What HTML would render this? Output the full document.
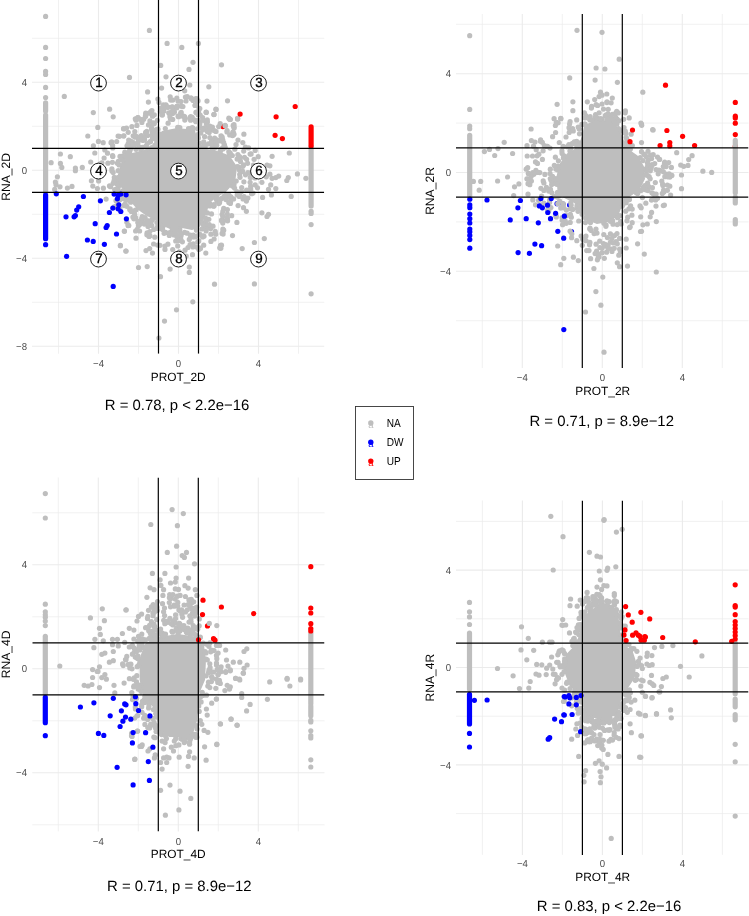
<!DOCTYPE html><html><head><meta charset="utf-8"><style>html,body{margin:0;padding:0;background:#fff;width:749px;height:916px;overflow:hidden}svg{display:block;will-change:transform}text{font-family:"Liberation Sans",sans-serif}</style></head><body><svg width="749" height="916" viewBox="0 0 749 916" text-rendering="geometricPrecision"><clipPath id="c0"><rect x="32" y="0" width="292.2" height="353.7"/></clipPath><path d="M32 38.3H324.2M32 126.3H324.2M32 214.3H324.2M32 302.3H324.2M58.5 0V353.7M138.5 0V353.7M218.5 0V353.7M298.5 0V353.7" stroke="#EBEBEB" stroke-width="0.7" fill="none"/><path d="M32 82.3H324.2M32 170.3H324.2M32 258.3H324.2M32 346.3H324.2M98.5 0V353.7M178.5 0V353.7M258.5 0V353.7" stroke="#EBEBEB" stroke-width="1.1" fill="none"/><g clip-path="url(#c0)"><g fill="#FF0000"><circle cx="222.9" cy="126.6" r="2.6"/></g><path d="M162 131 L177 128 L195 130 L198.8 148 L214.7 149.9 L229.6 155.5 L237.1 166.7 L235.2 181.7 L225.9 192 L214.7 198.5 L209 204 L207 212 L203 221 L199 228 L192 230 L182 228 L170 229 L161 225 L155 220 L146 215.5 L137 209 L130 201 L126.5 193.5 L121.2 187.3 L117.5 176.1 L121.2 163 L130.6 153.6 L143.6 149.9 L157.7 148 L158.6 135 Z" fill="#BEBEBE"/><g fill="#BEBEBE"><circle cx="172.9" cy="111.1" r="2.6"/><circle cx="138.4" cy="225.8" r="2.6"/><circle cx="185.4" cy="97" r="2.6"/><circle cx="230.4" cy="203.5" r="2.6"/><circle cx="149" cy="236.5" r="2.6"/><circle cx="253" cy="193" r="2.6"/><circle cx="173.6" cy="109.3" r="2.6"/><circle cx="250.7" cy="189.1" r="2.6"/><circle cx="119.8" cy="208.4" r="2.6"/><circle cx="103.4" cy="188.2" r="2.6"/><circle cx="99.7" cy="164" r="2.6"/><circle cx="153.1" cy="124.1" r="2.6"/><circle cx="178" cy="101.1" r="2.6"/><circle cx="215.2" cy="231.3" r="2.6"/><circle cx="168.1" cy="123.2" r="2.6"/><circle cx="232.5" cy="135.6" r="2.6"/><circle cx="187.3" cy="96.7" r="2.6"/><circle cx="199.1" cy="108.3" r="2.6"/><circle cx="160.6" cy="108" r="2.6"/><circle cx="238" cy="140.1" r="2.6"/><circle cx="243.1" cy="199" r="2.6"/><circle cx="197.1" cy="101.4" r="2.6"/><circle cx="181.2" cy="106.2" r="2.6"/><circle cx="163.6" cy="110.9" r="2.6"/><circle cx="138.5" cy="221.3" r="2.6"/><circle cx="245.4" cy="147.2" r="2.6"/><circle cx="205.2" cy="127.6" r="2.6"/><circle cx="137.8" cy="222.4" r="2.6"/><circle cx="213" cy="226.2" r="2.6"/><circle cx="149.9" cy="120.9" r="2.6"/><circle cx="253.8" cy="177" r="2.6"/><circle cx="227.2" cy="218.2" r="2.6"/><circle cx="106.1" cy="199.1" r="2.6"/><circle cx="116.7" cy="141.5" r="2.6"/><circle cx="101.9" cy="162.8" r="2.6"/><circle cx="159" cy="102.4" r="2.6"/><circle cx="172.7" cy="119.4" r="2.6"/><circle cx="198.6" cy="111.9" r="2.6"/><circle cx="116.3" cy="205.9" r="2.6"/><circle cx="238.1" cy="205.6" r="2.6"/><circle cx="145.7" cy="113.2" r="2.6"/><circle cx="163.7" cy="110.9" r="2.6"/><circle cx="222.1" cy="214.3" r="2.6"/><circle cx="101" cy="167.5" r="2.6"/><circle cx="107.5" cy="153.2" r="2.6"/><circle cx="199.6" cy="124.7" r="2.6"/><circle cx="190.6" cy="120.2" r="2.6"/><circle cx="135.6" cy="217.7" r="2.6"/><circle cx="107.9" cy="163.2" r="2.6"/><circle cx="199.8" cy="108.5" r="2.6"/><circle cx="172.7" cy="249.5" r="2.6"/><circle cx="184.8" cy="120.1" r="2.6"/><circle cx="133.9" cy="218.8" r="2.6"/><circle cx="160.5" cy="111.3" r="2.6"/><circle cx="193" cy="100.5" r="2.6"/><circle cx="222.8" cy="223.1" r="2.6"/><circle cx="198.4" cy="120.3" r="2.6"/><circle cx="192.3" cy="117.4" r="2.6"/><circle cx="132.9" cy="217.1" r="2.6"/><circle cx="181.4" cy="115.8" r="2.6"/><circle cx="131.9" cy="126.7" r="2.6"/><circle cx="249.1" cy="190.2" r="2.6"/><circle cx="104.1" cy="158" r="2.6"/><circle cx="199.9" cy="122.9" r="2.6"/><circle cx="210.7" cy="129.8" r="2.6"/><circle cx="202.6" cy="117.6" r="2.6"/><circle cx="254.1" cy="159.3" r="2.6"/><circle cx="151.3" cy="111.4" r="2.6"/><circle cx="146.9" cy="234.8" r="2.6"/><circle cx="255.5" cy="169.7" r="2.6"/><circle cx="167.8" cy="107.3" r="2.6"/><circle cx="191.4" cy="98.8" r="2.6"/><circle cx="255" cy="177.9" r="2.6"/><circle cx="223.3" cy="220.9" r="2.6"/><circle cx="170.2" cy="96.8" r="2.6"/><circle cx="251.3" cy="173" r="2.6"/><circle cx="147.1" cy="232.8" r="2.6"/><circle cx="210.6" cy="228.6" r="2.6"/><circle cx="154.3" cy="123.5" r="2.6"/><circle cx="149.8" cy="231.6" r="2.6"/><circle cx="229.7" cy="134.9" r="2.6"/><circle cx="207.4" cy="122.1" r="2.6"/><circle cx="170.5" cy="119.1" r="2.6"/><circle cx="227.3" cy="214.1" r="2.6"/><circle cx="143.7" cy="119.3" r="2.6"/><circle cx="176.8" cy="98.1" r="2.6"/><circle cx="207.8" cy="128.4" r="2.6"/><circle cx="246.6" cy="190.2" r="2.6"/><circle cx="153.6" cy="244" r="2.6"/><circle cx="251.1" cy="153.9" r="2.6"/><circle cx="250.5" cy="173" r="2.6"/><circle cx="222.8" cy="216.4" r="2.6"/><circle cx="165" cy="249.4" r="2.6"/><circle cx="203.3" cy="120.3" r="2.6"/><circle cx="250.1" cy="182.3" r="2.6"/><circle cx="186.3" cy="256" r="2.6"/><circle cx="126.9" cy="222.2" r="2.6"/><circle cx="203.7" cy="245.2" r="2.6"/><circle cx="250.7" cy="186.2" r="2.6"/><circle cx="227" cy="131.9" r="2.6"/><circle cx="98.6" cy="180.9" r="2.6"/><circle cx="227.4" cy="209.5" r="2.6"/><circle cx="199.4" cy="247.9" r="2.6"/><circle cx="102.3" cy="170.5" r="2.6"/><circle cx="100" cy="171.9" r="2.6"/><circle cx="181" cy="101.5" r="2.6"/><circle cx="198.8" cy="249.4" r="2.6"/><circle cx="109.5" cy="185.9" r="2.6"/><circle cx="186" cy="101" r="2.6"/><circle cx="163.4" cy="104.8" r="2.6"/><circle cx="154.3" cy="114.8" r="2.6"/><circle cx="153.1" cy="123.5" r="2.6"/><circle cx="98.2" cy="169.1" r="2.6"/><circle cx="176.8" cy="107.8" r="2.6"/><circle cx="172.8" cy="100.1" r="2.6"/><circle cx="244.1" cy="196.6" r="2.6"/><circle cx="157.4" cy="120.3" r="2.6"/><circle cx="185.3" cy="118.6" r="2.6"/><circle cx="239.2" cy="196.5" r="2.6"/><circle cx="250" cy="173.4" r="2.6"/><circle cx="141.9" cy="122.4" r="2.6"/><circle cx="134.8" cy="131.5" r="2.6"/><circle cx="157.9" cy="99" r="2.6"/><circle cx="182.9" cy="106.6" r="2.6"/><circle cx="253.4" cy="165" r="2.6"/><circle cx="160" cy="245.3" r="2.6"/><circle cx="218.7" cy="126.6" r="2.6"/><circle cx="152.5" cy="116.2" r="2.6"/><circle cx="195.9" cy="121.7" r="2.6"/><circle cx="179.3" cy="251.8" r="2.6"/><circle cx="207.3" cy="119.8" r="2.6"/><circle cx="201.5" cy="128.1" r="2.6"/><circle cx="114.1" cy="206.9" r="2.6"/><circle cx="174.3" cy="112.3" r="2.6"/><circle cx="174.2" cy="111.3" r="2.6"/><circle cx="151.9" cy="110.6" r="2.6"/><circle cx="250.3" cy="177.6" r="2.6"/><circle cx="154.8" cy="145.4" r="2.6"/><circle cx="120" cy="192.4" r="2.6"/><circle cx="118" cy="188.9" r="2.6"/><circle cx="164.9" cy="246.1" r="2.6"/><circle cx="222.9" cy="149" r="2.6"/><circle cx="214.7" cy="145.5" r="2.6"/><circle cx="113.1" cy="183.3" r="2.6"/><circle cx="216.2" cy="142.8" r="2.6"/><circle cx="164.1" cy="233.3" r="2.6"/><circle cx="130.9" cy="148.5" r="2.6"/><circle cx="197.7" cy="134.6" r="2.6"/><circle cx="138.9" cy="146.8" r="2.6"/><circle cx="224.6" cy="146.7" r="2.6"/><circle cx="241.5" cy="191.4" r="2.6"/><circle cx="242.1" cy="171.5" r="2.6"/><circle cx="133.5" cy="142.5" r="2.6"/><circle cx="124.7" cy="195.4" r="2.6"/><circle cx="148.3" cy="221.2" r="2.6"/><circle cx="236.2" cy="181.1" r="2.6"/><circle cx="120" cy="156.4" r="2.6"/><circle cx="202.6" cy="222.6" r="2.6"/><circle cx="143" cy="140.4" r="2.6"/><circle cx="152.2" cy="219.7" r="2.6"/><circle cx="158" cy="129.2" r="2.6"/><circle cx="175.7" cy="241" r="2.6"/><circle cx="178.5" cy="228.8" r="2.6"/><circle cx="145.3" cy="146.9" r="2.6"/><circle cx="243.6" cy="164.8" r="2.6"/><circle cx="179.8" cy="127.6" r="2.6"/><circle cx="179.8" cy="228.9" r="2.6"/><circle cx="225.6" cy="195.1" r="2.6"/><circle cx="177.7" cy="127.4" r="2.6"/><circle cx="145.1" cy="217.7" r="2.6"/><circle cx="188.5" cy="128.5" r="2.6"/><circle cx="243.9" cy="181.8" r="2.6"/><circle cx="153.7" cy="229.5" r="2.6"/><circle cx="239.4" cy="157.4" r="2.6"/><circle cx="122.6" cy="156.2" r="2.6"/><circle cx="156.8" cy="134.6" r="2.6"/><circle cx="229.3" cy="153.3" r="2.6"/><circle cx="233.9" cy="184.7" r="2.6"/><circle cx="244.5" cy="157.3" r="2.6"/><circle cx="209.8" cy="206" r="2.6"/><circle cx="193.1" cy="128.3" r="2.6"/><circle cx="237.9" cy="154.7" r="2.6"/><circle cx="241.7" cy="187.5" r="2.6"/><circle cx="238.8" cy="167.2" r="2.6"/><circle cx="155.9" cy="147.6" r="2.6"/><circle cx="197.7" cy="242.1" r="2.6"/><circle cx="216.9" cy="201.1" r="2.6"/><circle cx="246.6" cy="159.3" r="2.6"/><circle cx="150.6" cy="141.5" r="2.6"/><circle cx="129.6" cy="151.9" r="2.6"/><circle cx="198.4" cy="138.1" r="2.6"/><circle cx="243.7" cy="151.1" r="2.6"/><circle cx="126.3" cy="200.1" r="2.6"/><circle cx="198" cy="137" r="2.6"/><circle cx="117.5" cy="188.5" r="2.6"/><circle cx="148" cy="226.5" r="2.6"/><circle cx="179.5" cy="239.2" r="2.6"/><circle cx="154.1" cy="131.5" r="2.6"/><circle cx="204" cy="236.2" r="2.6"/><circle cx="130.7" cy="202.2" r="2.6"/><circle cx="180.9" cy="236.3" r="2.6"/><circle cx="239.5" cy="156.7" r="2.6"/><circle cx="129.7" cy="151.3" r="2.6"/><circle cx="222.5" cy="148.3" r="2.6"/><circle cx="174.9" cy="229.4" r="2.6"/><circle cx="236" cy="144.6" r="2.6"/><circle cx="157.7" cy="144.3" r="2.6"/><circle cx="138.5" cy="140.7" r="2.6"/><circle cx="179.7" cy="230.9" r="2.6"/><circle cx="114.3" cy="177.4" r="2.6"/><circle cx="220.2" cy="149.5" r="2.6"/><circle cx="158" cy="228.5" r="2.6"/><circle cx="240.5" cy="161.6" r="2.6"/><circle cx="125.2" cy="204.7" r="2.6"/><circle cx="218.8" cy="203.6" r="2.6"/><circle cx="234.6" cy="188.1" r="2.6"/><circle cx="232.3" cy="155.5" r="2.6"/><circle cx="214.1" cy="205.8" r="2.6"/><circle cx="217" cy="197.7" r="2.6"/><circle cx="173.9" cy="235" r="2.6"/><circle cx="131.4" cy="146" r="2.6"/><circle cx="124.8" cy="152.2" r="2.6"/><circle cx="129.6" cy="200.7" r="2.6"/><circle cx="196.9" cy="138.9" r="2.6"/><circle cx="177.7" cy="245.9" r="2.6"/><circle cx="159.2" cy="133.9" r="2.6"/><circle cx="165.3" cy="128.6" r="2.6"/><circle cx="197.6" cy="128.8" r="2.6"/><circle cx="144.6" cy="139.4" r="2.6"/><circle cx="142.3" cy="221.7" r="2.6"/><circle cx="118.1" cy="184" r="2.6"/><circle cx="184.6" cy="232.3" r="2.6"/><circle cx="167.9" cy="244.2" r="2.6"/><circle cx="151.5" cy="127.8" r="2.6"/><circle cx="215.5" cy="139.4" r="2.6"/><circle cx="198.8" cy="240.9" r="2.6"/><circle cx="124.1" cy="205.6" r="2.6"/><circle cx="207.3" cy="227.9" r="2.6"/><circle cx="169.3" cy="235.4" r="2.6"/><circle cx="229.9" cy="196.8" r="2.6"/><circle cx="158" cy="137.4" r="2.6"/><circle cx="220.3" cy="151.5" r="2.6"/><circle cx="247.9" cy="172.6" r="2.6"/><circle cx="146.2" cy="222.1" r="2.6"/><circle cx="135" cy="137.2" r="2.6"/><circle cx="187.1" cy="233.2" r="2.6"/><circle cx="129.8" cy="209.7" r="2.6"/><circle cx="157" cy="227.4" r="2.6"/><circle cx="156.3" cy="147.5" r="2.6"/><circle cx="222.2" cy="198.1" r="2.6"/><circle cx="192.3" cy="127.6" r="2.6"/><circle cx="140.9" cy="149.3" r="2.6"/><circle cx="209.2" cy="132.5" r="2.6"/><circle cx="128.9" cy="199.2" r="2.6"/><circle cx="239.7" cy="174.4" r="2.6"/><circle cx="130.5" cy="142.1" r="2.6"/><circle cx="191" cy="128.4" r="2.6"/><circle cx="150.9" cy="221.2" r="2.6"/><circle cx="211.7" cy="140.3" r="2.6"/><circle cx="215.9" cy="198.5" r="2.6"/><circle cx="237.3" cy="166.5" r="2.6"/><circle cx="222.8" cy="147.8" r="2.6"/><circle cx="136" cy="149.3" r="2.6"/><circle cx="157.2" cy="146" r="2.6"/><circle cx="122.8" cy="159.9" r="2.6"/><circle cx="125.1" cy="195.6" r="2.6"/><circle cx="119.1" cy="165" r="2.6"/><circle cx="211.5" cy="213.9" r="2.6"/><circle cx="207.2" cy="225.3" r="2.6"/><circle cx="118.2" cy="170.7" r="2.6"/><circle cx="239.4" cy="169.9" r="2.6"/><circle cx="215.2" cy="147.6" r="2.6"/><circle cx="118.3" cy="161.3" r="2.6"/><circle cx="133.2" cy="135.8" r="2.6"/><circle cx="161.1" cy="228.4" r="2.6"/><circle cx="205.1" cy="147" r="2.6"/><circle cx="115.5" cy="180.6" r="2.6"/><circle cx="136.1" cy="209.8" r="2.6"/><circle cx="123.1" cy="191.8" r="2.6"/><circle cx="170.8" cy="232.3" r="2.6"/><circle cx="208.8" cy="219.3" r="2.6"/><circle cx="204.1" cy="227.7" r="2.6"/><circle cx="116" cy="200.7" r="2.6"/><circle cx="225.9" cy="197.9" r="2.6"/><circle cx="220.7" cy="149.6" r="2.6"/><circle cx="111.9" cy="168.8" r="2.6"/><circle cx="230.7" cy="201.5" r="2.6"/><circle cx="233.6" cy="198.9" r="2.6"/><circle cx="156.2" cy="129.5" r="2.6"/><circle cx="130.2" cy="208.9" r="2.6"/><circle cx="152" cy="220.1" r="2.6"/><circle cx="151.8" cy="147.6" r="2.6"/><circle cx="169.2" cy="232.9" r="2.6"/><circle cx="177" cy="236.7" r="2.6"/><circle cx="157.2" cy="143.7" r="2.6"/><circle cx="213.6" cy="206.2" r="2.6"/><circle cx="117.9" cy="177.5" r="2.6"/><circle cx="188" cy="247.5" r="2.6"/><circle cx="155.5" cy="138.4" r="2.6"/><circle cx="182.4" cy="241.8" r="2.6"/><circle cx="214.6" cy="138" r="2.6"/><circle cx="154.8" cy="237.2" r="2.6"/><circle cx="165.6" cy="232.4" r="2.6"/><circle cx="177.2" cy="235.7" r="2.6"/><circle cx="247.6" cy="163.3" r="2.6"/><circle cx="134.8" cy="210.6" r="2.6"/><circle cx="147.8" cy="148.6" r="2.6"/><circle cx="127" cy="145.8" r="2.6"/><circle cx="134.7" cy="214.6" r="2.6"/><circle cx="228.8" cy="151.6" r="2.6"/><circle cx="219.6" cy="202.4" r="2.6"/><circle cx="116.1" cy="181" r="2.6"/><circle cx="173.9" cy="229.4" r="2.6"/><circle cx="216.5" cy="141.4" r="2.6"/><circle cx="228.8" cy="194.8" r="2.6"/><circle cx="160.6" cy="224.8" r="2.6"/><circle cx="237.2" cy="194.8" r="2.6"/><circle cx="119.9" cy="199.7" r="2.6"/><circle cx="138.6" cy="139.3" r="2.6"/><circle cx="204.9" cy="145.9" r="2.6"/><circle cx="245.5" cy="174.8" r="2.6"/><circle cx="178.7" cy="240.4" r="2.6"/><circle cx="200.8" cy="133.1" r="2.6"/><circle cx="212.7" cy="148.8" r="2.6"/><circle cx="114.7" cy="189.6" r="2.6"/><circle cx="199.5" cy="143.1" r="2.6"/><circle cx="201.7" cy="147" r="2.6"/><circle cx="127.6" cy="156.3" r="2.6"/><circle cx="179.4" cy="235.7" r="2.6"/><circle cx="141.7" cy="218.5" r="2.6"/><circle cx="192.9" cy="246.9" r="2.6"/><circle cx="240" cy="177.3" r="2.6"/><circle cx="203.9" cy="145.5" r="2.6"/><circle cx="129.4" cy="151.2" r="2.6"/><circle cx="213.9" cy="204.6" r="2.6"/><circle cx="196.5" cy="230.2" r="2.6"/><circle cx="220.9" cy="199" r="2.6"/><circle cx="110.6" cy="186.7" r="2.6"/><circle cx="122.2" cy="160.1" r="2.6"/><circle cx="242.5" cy="171.2" r="2.6"/><circle cx="181.4" cy="234" r="2.6"/><circle cx="212.1" cy="147.8" r="2.6"/><circle cx="117.4" cy="163.3" r="2.6"/><circle cx="172.3" cy="229.1" r="2.6"/><circle cx="236.9" cy="191.6" r="2.6"/><circle cx="224.3" cy="196.1" r="2.6"/><circle cx="240" cy="159.4" r="2.6"/><circle cx="205.7" cy="221.5" r="2.6"/><circle cx="202.6" cy="237" r="2.6"/><circle cx="156.8" cy="135" r="2.6"/><circle cx="179.4" cy="230.9" r="2.6"/><circle cx="199.7" cy="234.2" r="2.6"/><circle cx="207.4" cy="212.9" r="2.6"/><circle cx="118.2" cy="181.4" r="2.6"/><circle cx="119.9" cy="185.3" r="2.6"/><circle cx="209.9" cy="203.9" r="2.6"/><circle cx="152.3" cy="132.4" r="2.6"/><circle cx="223.7" cy="142.7" r="2.6"/><circle cx="163.1" cy="226" r="2.6"/><circle cx="232.4" cy="186.1" r="2.6"/><circle cx="124.4" cy="199.1" r="2.6"/><circle cx="117.4" cy="184.4" r="2.6"/><circle cx="237.1" cy="159.1" r="2.6"/><circle cx="126.9" cy="206.3" r="2.6"/><circle cx="151.9" cy="220" r="2.6"/><circle cx="237.4" cy="167.1" r="2.6"/><circle cx="205.5" cy="218" r="2.6"/><circle cx="152" cy="134.8" r="2.6"/><circle cx="112" cy="171.1" r="2.6"/><circle cx="147.8" cy="220.9" r="2.6"/><circle cx="157.3" cy="228.5" r="2.6"/><circle cx="135" cy="144.5" r="2.6"/><circle cx="144.3" cy="224.1" r="2.6"/><circle cx="175.2" cy="233.1" r="2.6"/><circle cx="201.8" cy="229" r="2.6"/><circle cx="114.1" cy="180.5" r="2.6"/><circle cx="239.5" cy="194.7" r="2.6"/><circle cx="234.8" cy="149.2" r="2.6"/><circle cx="192.7" cy="237" r="2.6"/><circle cx="242.9" cy="166.3" r="2.6"/><circle cx="113.2" cy="172.6" r="2.6"/><circle cx="208.4" cy="143.8" r="2.6"/><circle cx="190.4" cy="235.2" r="2.6"/><circle cx="142.4" cy="147.4" r="2.6"/><circle cx="112.4" cy="162.3" r="2.6"/><circle cx="126.1" cy="156.7" r="2.6"/><circle cx="203" cy="224.6" r="2.6"/><circle cx="142.2" cy="216.7" r="2.6"/><circle cx="127.6" cy="154.2" r="2.6"/><circle cx="146.8" cy="131.4" r="2.6"/><circle cx="231" cy="198.8" r="2.6"/><circle cx="147.7" cy="135.5" r="2.6"/><circle cx="134" cy="211.9" r="2.6"/><circle cx="145.8" cy="133.7" r="2.6"/><circle cx="131.3" cy="211.5" r="2.6"/><circle cx="123" cy="198.5" r="2.6"/><circle cx="124.9" cy="204.3" r="2.6"/><circle cx="195" cy="237" r="2.6"/><circle cx="146.1" cy="146.2" r="2.6"/><circle cx="117.7" cy="201.3" r="2.6"/><circle cx="116.8" cy="189.7" r="2.6"/><circle cx="217.2" cy="140" r="2.6"/><circle cx="128.7" cy="140" r="2.6"/><circle cx="225.2" cy="147.6" r="2.6"/><circle cx="156.7" cy="142" r="2.6"/><circle cx="211.5" cy="142.8" r="2.6"/><circle cx="229.4" cy="197.1" r="2.6"/><circle cx="162.6" cy="229.4" r="2.6"/><circle cx="156.9" cy="222.5" r="2.6"/><circle cx="230.3" cy="153.1" r="2.6"/><circle cx="141.4" cy="135.6" r="2.6"/><circle cx="233.7" cy="184.4" r="2.6"/><circle cx="230.9" cy="196.9" r="2.6"/><circle cx="122.8" cy="190.9" r="2.6"/></g><g fill="#BEBEBE"><circle cx="64.3" cy="96.4" r="2.6"/><circle cx="93.3" cy="112.6" r="2.6"/><circle cx="109.6" cy="109.2" r="2.6"/><circle cx="113.2" cy="116.8" r="2.6"/><circle cx="129.5" cy="77.4" r="2.6"/><circle cx="97.8" cy="127.4" r="2.6"/><circle cx="87.8" cy="136" r="2.6"/><circle cx="98.4" cy="141.4" r="2.6"/><circle cx="103.2" cy="142.7" r="2.6"/><circle cx="111" cy="142.7" r="2.6"/><circle cx="93.4" cy="145.8" r="2.6"/><circle cx="104.8" cy="150" r="2.6"/><circle cx="112.8" cy="148" r="2.6"/><circle cx="94.8" cy="153" r="2.6"/><circle cx="112.8" cy="156.5" r="2.6"/><circle cx="60.4" cy="154" r="2.6"/><circle cx="70.3" cy="156.7" r="2.6"/><circle cx="51.1" cy="162.7" r="2.6"/><circle cx="60.4" cy="163.4" r="2.6"/><circle cx="61.8" cy="167.4" r="2.6"/><circle cx="75.4" cy="168" r="2.6"/><circle cx="75.4" cy="170.7" r="2.6"/><circle cx="82.3" cy="167.4" r="2.6"/><circle cx="90.7" cy="162" r="2.6"/><circle cx="57.4" cy="176.8" r="2.6"/><circle cx="55.4" cy="182.1" r="2.6"/><circle cx="56" cy="184.8" r="2.6"/><circle cx="60" cy="186.8" r="2.6"/><circle cx="54.7" cy="189.4" r="2.6"/><circle cx="67.4" cy="188.1" r="2.6"/><circle cx="72" cy="186.4" r="2.6"/><circle cx="91.4" cy="180.8" r="2.6"/><circle cx="92.8" cy="186.1" r="2.6"/><circle cx="97.4" cy="188.5" r="2.6"/><circle cx="123.5" cy="128.7" r="2.6"/><circle cx="118.1" cy="136" r="2.6"/><circle cx="123.5" cy="136" r="2.6"/><circle cx="128.8" cy="144" r="2.6"/><circle cx="128.8" cy="225.5" r="2.6"/><circle cx="128.1" cy="225.6" r="2.6"/><circle cx="124.4" cy="231.3" r="2.6"/><circle cx="120.4" cy="245.8" r="2.6"/><circle cx="125.9" cy="251.1" r="2.6"/><circle cx="149.4" cy="30.4" r="2.6"/><circle cx="167.1" cy="43.4" r="2.6"/><circle cx="181.8" cy="47.4" r="2.6"/><circle cx="198.4" cy="43.4" r="2.6"/><circle cx="193" cy="62.3" r="2.6"/><circle cx="189" cy="69.4" r="2.6"/><circle cx="221.5" cy="64.8" r="2.6"/><circle cx="160.7" cy="65.4" r="2.6"/><circle cx="166" cy="76.8" r="2.6"/><circle cx="161.6" cy="88.1" r="2.6"/><circle cx="189.8" cy="85" r="2.6"/><circle cx="184.7" cy="90.8" r="2.6"/><circle cx="147.6" cy="91.9" r="2.6"/><circle cx="208.8" cy="86.8" r="2.6"/><circle cx="148.4" cy="102.1" r="2.6"/><circle cx="170.7" cy="100.1" r="2.6"/><circle cx="191" cy="98.1" r="2.6"/><circle cx="196.8" cy="98.8" r="2.6"/><circle cx="198.1" cy="100.8" r="2.6"/><circle cx="207" cy="101.1" r="2.6"/><circle cx="227.5" cy="100.8" r="2.6"/><circle cx="166" cy="104.8" r="2.6"/><circle cx="164.7" cy="107.5" r="2.6"/><circle cx="172.1" cy="106.8" r="2.6"/><circle cx="177.4" cy="106.1" r="2.6"/><circle cx="195.4" cy="105.2" r="2.6"/><circle cx="149.4" cy="112.8" r="2.6"/><circle cx="145.4" cy="116.2" r="2.6"/><circle cx="138" cy="117.5" r="2.6"/><circle cx="135.3" cy="118.8" r="2.6"/><circle cx="162.4" cy="114.8" r="2.6"/><circle cx="168.7" cy="112.8" r="2.6"/><circle cx="172.7" cy="113.5" r="2.6"/><circle cx="180.7" cy="113.5" r="2.6"/><circle cx="178.1" cy="116.2" r="2.6"/><circle cx="183.4" cy="116.2" r="2.6"/><circle cx="190.1" cy="117.5" r="2.6"/><circle cx="196.8" cy="112.2" r="2.6"/><circle cx="198.1" cy="114.8" r="2.6"/><circle cx="206.1" cy="112.2" r="2.6"/><circle cx="213.8" cy="114.6" r="2.6"/><circle cx="216.1" cy="109.5" r="2.6"/><circle cx="228.8" cy="118.2" r="2.6"/><circle cx="230" cy="119" r="2.6"/><circle cx="237.6" cy="118.7" r="2.6"/><circle cx="230.3" cy="119.5" r="2.6"/><circle cx="237.6" cy="119.1" r="2.6"/><circle cx="225.1" cy="125.4" r="2.6"/><circle cx="234" cy="124.7" r="2.6"/><circle cx="234" cy="126.9" r="2.6"/><circle cx="232.9" cy="132" r="2.6"/><circle cx="234" cy="134.2" r="2.6"/><circle cx="243.9" cy="134.2" r="2.6"/><circle cx="222.2" cy="137.2" r="2.6"/><circle cx="221.5" cy="139.4" r="2.6"/><circle cx="242.8" cy="142.6" r="2.6"/><circle cx="224.4" cy="145.2" r="2.6"/><circle cx="248.6" cy="147.9" r="2.6"/><circle cx="255.2" cy="150.4" r="2.6"/><circle cx="250.1" cy="154.1" r="2.6"/><circle cx="258.2" cy="156.7" r="2.6"/><circle cx="272.1" cy="156.3" r="2.6"/><circle cx="289.3" cy="153" r="2.6"/><circle cx="267" cy="165.1" r="2.6"/><circle cx="269.9" cy="165.8" r="2.6"/><circle cx="297.4" cy="173.9" r="2.6"/><circle cx="305.9" cy="178.3" r="2.6"/><circle cx="278.7" cy="176.1" r="2.6"/><circle cx="275.8" cy="177.6" r="2.6"/><circle cx="272.1" cy="178.3" r="2.6"/><circle cx="288.3" cy="177.6" r="2.6"/><circle cx="286.8" cy="180.5" r="2.6"/><circle cx="269.9" cy="174.2" r="2.6"/><circle cx="266.3" cy="176.8" r="2.6"/><circle cx="261.9" cy="182.3" r="2.6"/><circle cx="270.7" cy="184.9" r="2.6"/><circle cx="275.8" cy="188.6" r="2.6"/><circle cx="268.5" cy="189.3" r="2.6"/><circle cx="257.5" cy="187.8" r="2.6"/><circle cx="255.2" cy="184.9" r="2.6"/><circle cx="291.2" cy="196.4" r="2.6"/><circle cx="262.6" cy="197.4" r="2.6"/><circle cx="271.4" cy="194.9" r="2.6"/><circle cx="247.9" cy="198.1" r="2.6"/><circle cx="246.4" cy="201.1" r="2.6"/><circle cx="251.6" cy="193.7" r="2.6"/><circle cx="243.5" cy="207.7" r="2.6"/><circle cx="246.4" cy="211.3" r="2.6"/><circle cx="261.9" cy="212.8" r="2.6"/><circle cx="268.5" cy="214.3" r="2.6"/><circle cx="267" cy="216.5" r="2.6"/><circle cx="236.9" cy="222.4" r="2.6"/><circle cx="227.3" cy="218" r="2.6"/><circle cx="231.7" cy="215.7" r="2.6"/><circle cx="222.9" cy="211.3" r="2.6"/><circle cx="223.7" cy="208.4" r="2.6"/><circle cx="228.8" cy="202.5" r="2.6"/><circle cx="225.9" cy="199.6" r="2.6"/><circle cx="221.5" cy="220.1" r="2.6"/><circle cx="222.9" cy="229" r="2.6"/><circle cx="221.5" cy="220.8" r="2.6"/><circle cx="227.6" cy="220.8" r="2.6"/><circle cx="223.1" cy="230.7" r="2.6"/><circle cx="223.1" cy="234.1" r="2.6"/><circle cx="232.5" cy="235.6" r="2.6"/><circle cx="221.5" cy="245.2" r="2.6"/><circle cx="220.8" cy="248.3" r="2.6"/><circle cx="242.2" cy="248.6" r="2.6"/><circle cx="254.4" cy="242.5" r="2.6"/><circle cx="264.3" cy="238.6" r="2.6"/><circle cx="254.4" cy="283.9" r="2.6"/><circle cx="134.8" cy="218.2" r="2.6"/><circle cx="128.4" cy="225.4" r="2.6"/><circle cx="124.4" cy="231" r="2.6"/><circle cx="139.6" cy="224.6" r="2.6"/><circle cx="137.2" cy="229.4" r="2.6"/><circle cx="135.6" cy="231" r="2.6"/><circle cx="139.6" cy="231" r="2.6"/><circle cx="136" cy="238.2" r="2.6"/><circle cx="120.4" cy="245.4" r="2.6"/><circle cx="126" cy="251" r="2.6"/><circle cx="148.4" cy="224.6" r="2.6"/><circle cx="151.7" cy="225.4" r="2.6"/><circle cx="147.6" cy="234.2" r="2.6"/><circle cx="150" cy="235.8" r="2.6"/><circle cx="146" cy="250.6" r="2.6"/><circle cx="149.7" cy="248.6" r="2.6"/><circle cx="152.5" cy="253.1" r="2.6"/><circle cx="138.5" cy="267.5" r="2.6"/><circle cx="147.2" cy="266.6" r="2.6"/><circle cx="157.6" cy="245.1" r="2.6"/><circle cx="170.1" cy="269.1" r="2.6"/><circle cx="160.5" cy="276.7" r="2.6"/><circle cx="180.8" cy="239.4" r="2.6"/><circle cx="189.3" cy="239.4" r="2.6"/><circle cx="190.1" cy="244.6" r="2.6"/><circle cx="185" cy="250.2" r="2.6"/><circle cx="192.5" cy="254.7" r="2.6"/><circle cx="189.3" cy="267.1" r="2.6"/><circle cx="189.3" cy="272.4" r="2.6"/><circle cx="200.5" cy="248.6" r="2.6"/><circle cx="205.8" cy="253.1" r="2.6"/><circle cx="193.3" cy="235" r="2.6"/><circle cx="197.3" cy="235.8" r="2.6"/><circle cx="193.3" cy="243.8" r="2.6"/><circle cx="196.5" cy="247" r="2.6"/><circle cx="202.9" cy="235.8" r="2.6"/><circle cx="206.1" cy="231" r="2.6"/><circle cx="209.3" cy="224.6" r="2.6"/><circle cx="210.9" cy="234.2" r="2.6"/><circle cx="215.7" cy="234.2" r="2.6"/><circle cx="222.1" cy="233.4" r="2.6"/><circle cx="223.7" cy="230.2" r="2.6"/><circle cx="210.9" cy="241.4" r="2.6"/><circle cx="214.1" cy="239" r="2.6"/><circle cx="220.5" cy="245.4" r="2.6"/><circle cx="219.7" cy="247.8" r="2.6"/><circle cx="214.5" cy="284.2" r="2.6"/><circle cx="192.8" cy="301.8" r="2.6"/><circle cx="176.5" cy="309.8" r="2.6"/><circle cx="164.5" cy="321.1" r="2.6"/><circle cx="158.9" cy="338" r="2.6"/><circle cx="149.6" cy="113.2" r="2.6"/><circle cx="145.6" cy="116.2" r="2.6"/><circle cx="137.8" cy="117.6" r="2.6"/><circle cx="136" cy="120.2" r="2.6"/><circle cx="140.4" cy="119.3" r="2.6"/><circle cx="136.9" cy="125.4" r="2.6"/><circle cx="148.5" cy="124.9" r="2.6"/><circle cx="153.4" cy="122.8" r="2.6"/><circle cx="126.5" cy="128" r="2.6"/><circle cx="123.9" cy="128.8" r="2.6"/><circle cx="128.2" cy="132.3" r="2.6"/><circle cx="119.5" cy="136.3" r="2.6"/><circle cx="123.9" cy="135.8" r="2.6"/><circle cx="135.7" cy="135.8" r="2.6"/><circle cx="130.8" cy="141" r="2.6"/><circle cx="145.6" cy="132.3" r="2.6"/><circle cx="143.8" cy="137.5" r="2.6"/><circle cx="140.4" cy="136.7" r="2.6"/><circle cx="151.7" cy="129.7" r="2.6"/><circle cx="153.4" cy="133.2" r="2.6"/><circle cx="152.5" cy="138.4" r="2.6"/><circle cx="128.2" cy="143.6" r="2.6"/><circle cx="132.6" cy="145.3" r="2.6"/><circle cx="137.8" cy="143.6" r="2.6"/><circle cx="147.3" cy="143.6" r="2.6"/><circle cx="149.9" cy="141.9" r="2.6"/><circle cx="111.7" cy="141.9" r="2.6"/><circle cx="112.6" cy="145.3" r="2.6"/><circle cx="112.6" cy="155.7" r="2.6"/><circle cx="165.5" cy="105.4" r="2.6"/><circle cx="168.1" cy="107.1" r="2.6"/><circle cx="163.8" cy="108" r="2.6"/><circle cx="172.5" cy="107.1" r="2.6"/><circle cx="176.8" cy="106.3" r="2.6"/><circle cx="191.2" cy="98.1" r="2.6"/><circle cx="195.9" cy="98.5" r="2.6"/><circle cx="195" cy="105.4" r="2.6"/><circle cx="162.1" cy="115" r="2.6"/><circle cx="169.9" cy="114.1" r="2.6"/><circle cx="171.6" cy="111.5" r="2.6"/><circle cx="169.9" cy="116.7" r="2.6"/><circle cx="181.2" cy="112.4" r="2.6"/><circle cx="178.6" cy="116.7" r="2.6"/><circle cx="184.6" cy="116.7" r="2.6"/><circle cx="190.7" cy="116.7" r="2.6"/><circle cx="195.9" cy="112.4" r="2.6"/><circle cx="195" cy="120.2" r="2.6"/><circle cx="215.9" cy="109.2" r="2.6"/><circle cx="206.3" cy="112.4" r="2.6"/><circle cx="214.1" cy="114.4" r="2.6"/><circle cx="200.2" cy="115" r="2.6"/><circle cx="229.7" cy="119.3" r="2.6"/><circle cx="237.6" cy="118.4" r="2.6"/><circle cx="206.3" cy="123.6" r="2.6"/><circle cx="212.4" cy="127.1" r="2.6"/><circle cx="209.8" cy="126.2" r="2.6"/><circle cx="220.2" cy="123.6" r="2.6"/><circle cx="225.4" cy="125.9" r="2.6"/><circle cx="233.2" cy="125.4" r="2.6"/><circle cx="234.1" cy="128" r="2.6"/><circle cx="202.8" cy="129.7" r="2.6"/><circle cx="207.2" cy="131.4" r="2.6"/><circle cx="214.1" cy="130.6" r="2.6"/><circle cx="215.9" cy="131.4" r="2.6"/><circle cx="227.1" cy="130.6" r="2.6"/><circle cx="233.2" cy="132.3" r="2.6"/><circle cx="233.2" cy="134.9" r="2.6"/><circle cx="204.6" cy="136.7" r="2.6"/><circle cx="209.8" cy="137.5" r="2.6"/><circle cx="221.1" cy="135.8" r="2.6"/><circle cx="222.8" cy="140.1" r="2.6"/><circle cx="220.2" cy="141" r="2.6"/><circle cx="203.7" cy="141.9" r="2.6"/><circle cx="210.7" cy="143.6" r="2.6"/><circle cx="216.7" cy="145.3" r="2.6"/><circle cx="224.5" cy="145.3" r="2.6"/><circle cx="45.6" cy="16.4" r="2.6"/><circle cx="45.6" cy="47.4" r="2.6"/><circle cx="45.6" cy="58.5" r="2.6"/><circle cx="45.6" cy="71.4" r="2.6"/><circle cx="45.6" cy="74.5" r="2.6"/><circle cx="45.6" cy="87.4" r="2.6"/><circle cx="45.6" cy="97.5" r="2.6"/><circle cx="311.1" cy="211.3" r="2.6"/><circle cx="311.1" cy="213.5" r="2.6"/><circle cx="311.1" cy="224.6" r="2.6"/><circle cx="311.1" cy="293.8" r="2.6"/></g><path d="M45.6 102.8V111" stroke="#BEBEBE" stroke-width="5.2" stroke-linecap="round"/><path d="M45.6 115V192.8" stroke="#BEBEBE" stroke-width="5.2" stroke-linecap="round"/><path d="M311.1 146.7V206" stroke="#BEBEBE" stroke-width="5.2" stroke-linecap="round"/><g fill="#0000FF"><circle cx="56.3" cy="193.8" r="2.6"/><circle cx="83.4" cy="196.5" r="2.6"/><circle cx="100.4" cy="200.8" r="2.6"/><circle cx="78.7" cy="206.8" r="2.6"/><circle cx="76.7" cy="210.1" r="2.6"/><circle cx="75.4" cy="215.5" r="2.6"/><circle cx="74.1" cy="216.8" r="2.6"/><circle cx="66" cy="216.8" r="2.6"/><circle cx="95.2" cy="223.7" r="2.6"/><circle cx="107.2" cy="225.5" r="2.6"/><circle cx="106.1" cy="227.5" r="2.6"/><circle cx="114.1" cy="194.1" r="2.6"/><circle cx="118.1" cy="195.4" r="2.6"/><circle cx="120.8" cy="194.1" r="2.6"/><circle cx="117.4" cy="198.8" r="2.6"/><circle cx="126.1" cy="194.8" r="2.6"/><circle cx="118.8" cy="204.8" r="2.6"/><circle cx="118.1" cy="208.8" r="2.6"/><circle cx="120.8" cy="211.5" r="2.6"/><circle cx="112.8" cy="208.1" r="2.6"/><circle cx="109.4" cy="212.5" r="2.6"/><circle cx="126.4" cy="218.8" r="2.6"/><circle cx="116.5" cy="234" r="2.6"/><circle cx="87.4" cy="240" r="2.6"/><circle cx="93.2" cy="241.4" r="2.6"/><circle cx="104.4" cy="244.3" r="2.6"/><circle cx="66.6" cy="256.3" r="2.6"/><circle cx="113.2" cy="286.4" r="2.6"/><circle cx="45.6" cy="244.7" r="2.6"/></g><path d="M45.6 195V238.7" stroke="#0000FF" stroke-width="5.2" stroke-linecap="round"/><g fill="#FF0000"><circle cx="240.1" cy="114.1" r="2.6"/><circle cx="276.1" cy="116.8" r="2.6"/><circle cx="295.2" cy="106.5" r="2.6"/><circle cx="275.1" cy="135.3" r="2.6"/><circle cx="282.4" cy="138.6" r="2.6"/></g><path d="M311.1 126.9V146" stroke="#FF0000" stroke-width="5.2" stroke-linecap="round"/><path d="M32 148.3H324.2M32 192.3H324.2M158.5 0V353.7M198.5 0V353.7" stroke="#000" stroke-width="1.2" fill="none"/></g><text transform="translate(27 85.9) scale(1 1.05)" font-size="9.6" fill="#4D4D4D" text-anchor="end">4</text><text transform="translate(27 173.9) scale(1 1.05)" font-size="9.6" fill="#4D4D4D" text-anchor="end">0</text><text transform="translate(27 261.9) scale(1 1.05)" font-size="9.6" fill="#4D4D4D" text-anchor="end">−4</text><text transform="translate(27 349.9) scale(1 1.05)" font-size="9.6" fill="#4D4D4D" text-anchor="end">−8</text><text transform="translate(98.5 366.8) scale(1 1.05)" font-size="9.6" fill="#4D4D4D" text-anchor="middle">−4</text><text transform="translate(178.5 366.8) scale(1 1.05)" font-size="9.6" fill="#4D4D4D" text-anchor="middle">0</text><text transform="translate(258.5 366.8) scale(1 1.05)" font-size="9.6" fill="#4D4D4D" text-anchor="middle">4</text><text transform="translate(10.4 176.8) rotate(-90)" font-size="12.1" fill="#000" text-anchor="middle">RNA_2D</text><text transform="translate(178.2 380.8)" font-size="11.9" fill="#000" text-anchor="middle">PROT_2D</text><text x="177" y="409.6" font-size="14.9" fill="#000" text-anchor="middle">R = 0.78, p &lt; 2.2e−16</text><clipPath id="c1"><rect x="456" y="14" width="292.5" height="354"/></clipPath><path d="M456 24.3H748.5M456 123.1H748.5M456 221.9H748.5M456 320.7H748.5M482.3 14V368M562.3 14V368M642.3 14V368M722.3 14V368" stroke="#EBEBEB" stroke-width="0.7" fill="none"/><path d="M456 73.7H748.5M456 172.5H748.5M456 271.3H748.5M522.3 14V368M602.3 14V368M682.3 14V368" stroke="#EBEBEB" stroke-width="1.1" fill="none"/><g clip-path="url(#c1)"><g fill="#0000FF"><circle cx="557.1" cy="203.7" r="2.6"/><circle cx="563" cy="204" r="2.6"/><circle cx="569.6" cy="205" r="2.6"/><circle cx="571.5" cy="231.5" r="2.6"/></g><g fill="#FF0000"><circle cx="735.3" cy="146.2" r="2.6"/></g><path d="M584.1 125.6 L596.9 119.2 L614 121.4 L621.5 134.2 L626.8 148.1 L637.5 155.5 L643.9 166.2 L645 179 L639.6 189.7 L629 197.2 L622.5 204.7 L618.3 215.4 L609.7 221.8 L596.9 223.9 L586.2 219.6 L582 209 L573.4 202.5 L562.7 197.2 L557.4 189.7 L556.3 176.9 L559.5 164.1 L567 153.4 L577.7 147 L582 136.3 Z" fill="#BEBEBE"/><g fill="#BEBEBE"><circle cx="640" cy="205.9" r="2.6"/><circle cx="537.1" cy="155.8" r="2.6"/><circle cx="591.6" cy="106.4" r="2.6"/><circle cx="669.9" cy="177.1" r="2.6"/><circle cx="585.2" cy="240.4" r="2.6"/><circle cx="548.8" cy="210.5" r="2.6"/><circle cx="536.2" cy="149.7" r="2.6"/><circle cx="566.2" cy="223.3" r="2.6"/><circle cx="616.1" cy="241.6" r="2.6"/><circle cx="543.8" cy="203.1" r="2.6"/><circle cx="533.5" cy="146.2" r="2.6"/><circle cx="655.6" cy="200" r="2.6"/><circle cx="666.1" cy="174" r="2.6"/><circle cx="582.3" cy="245.3" r="2.6"/><circle cx="542.3" cy="142.3" r="2.6"/><circle cx="662.3" cy="193.4" r="2.6"/><circle cx="631.1" cy="134.2" r="2.6"/><circle cx="558.1" cy="122.8" r="2.6"/><circle cx="663.8" cy="192.1" r="2.6"/><circle cx="604.8" cy="246" r="2.6"/><circle cx="627" cy="220.8" r="2.6"/><circle cx="664.8" cy="176.7" r="2.6"/><circle cx="565.3" cy="221" r="2.6"/><circle cx="628.9" cy="208.8" r="2.6"/><circle cx="535.5" cy="204.8" r="2.6"/><circle cx="627.7" cy="217.2" r="2.6"/><circle cx="589.9" cy="242.4" r="2.6"/><circle cx="630.2" cy="226.8" r="2.6"/><circle cx="562.2" cy="220.2" r="2.6"/><circle cx="598" cy="254.1" r="2.6"/><circle cx="576.7" cy="119.9" r="2.6"/><circle cx="599.1" cy="256.8" r="2.6"/><circle cx="596.6" cy="251.2" r="2.6"/><circle cx="651.5" cy="200.1" r="2.6"/><circle cx="539.8" cy="172.6" r="2.6"/><circle cx="535.9" cy="170.4" r="2.6"/><circle cx="596.1" cy="104.7" r="2.6"/><circle cx="596.1" cy="244.2" r="2.6"/><circle cx="630.6" cy="205.8" r="2.6"/><circle cx="619.6" cy="249" r="2.6"/><circle cx="659.4" cy="159.5" r="2.6"/><circle cx="569.6" cy="124" r="2.6"/><circle cx="527.2" cy="156" r="2.6"/><circle cx="671.9" cy="175.4" r="2.6"/><circle cx="555.9" cy="215.7" r="2.6"/><circle cx="614.5" cy="235.5" r="2.6"/><circle cx="629.6" cy="227.6" r="2.6"/><circle cx="569" cy="127.7" r="2.6"/><circle cx="651.5" cy="164.9" r="2.6"/><circle cx="573.3" cy="130.9" r="2.6"/><circle cx="550.9" cy="207.6" r="2.6"/><circle cx="537.5" cy="163.4" r="2.6"/><circle cx="556" cy="215.7" r="2.6"/><circle cx="528.3" cy="173.3" r="2.6"/><circle cx="566.8" cy="215.6" r="2.6"/><circle cx="529.8" cy="184.7" r="2.6"/><circle cx="547.6" cy="210.2" r="2.6"/><circle cx="654.7" cy="163.5" r="2.6"/><circle cx="564.9" cy="215.8" r="2.6"/><circle cx="663.6" cy="190.1" r="2.6"/><circle cx="559.3" cy="142.5" r="2.6"/><circle cx="532.7" cy="172.7" r="2.6"/><circle cx="546.5" cy="146.4" r="2.6"/><circle cx="569.2" cy="132.5" r="2.6"/><circle cx="544.3" cy="145.6" r="2.6"/><circle cx="537.6" cy="172.4" r="2.6"/><circle cx="582.7" cy="239.2" r="2.6"/><circle cx="641.2" cy="207.8" r="2.6"/><circle cx="570.2" cy="222.4" r="2.6"/><circle cx="528" cy="183.7" r="2.6"/><circle cx="526.9" cy="178.8" r="2.6"/><circle cx="538.6" cy="200.3" r="2.6"/><circle cx="533.8" cy="174.3" r="2.6"/><circle cx="617" cy="233.6" r="2.6"/><circle cx="550" cy="148.1" r="2.6"/><circle cx="632.2" cy="209.1" r="2.6"/><circle cx="606.9" cy="102.6" r="2.6"/><circle cx="566" cy="137" r="2.6"/><circle cx="671.4" cy="167.4" r="2.6"/><circle cx="570.1" cy="231.2" r="2.6"/><circle cx="667.3" cy="185.1" r="2.6"/><circle cx="603.5" cy="243.6" r="2.6"/><circle cx="552.6" cy="136.7" r="2.6"/><circle cx="599.7" cy="241.2" r="2.6"/><circle cx="549.6" cy="202.4" r="2.6"/><circle cx="664.5" cy="163.2" r="2.6"/><circle cx="631.9" cy="215.2" r="2.6"/><circle cx="656.1" cy="194.1" r="2.6"/><circle cx="599.9" cy="247.5" r="2.6"/><circle cx="653.2" cy="154.5" r="2.6"/><circle cx="611.5" cy="249" r="2.6"/><circle cx="651.9" cy="192.8" r="2.6"/><circle cx="555.4" cy="125.5" r="2.6"/><circle cx="662.9" cy="185.4" r="2.6"/><circle cx="621.2" cy="223.9" r="2.6"/><circle cx="527.7" cy="179.1" r="2.6"/><circle cx="538.9" cy="154.2" r="2.6"/><circle cx="625.4" cy="110.9" r="2.6"/><circle cx="571.6" cy="237.7" r="2.6"/><circle cx="642.4" cy="197.5" r="2.6"/><circle cx="562.1" cy="217.6" r="2.6"/><circle cx="528.6" cy="173.7" r="2.6"/><circle cx="623.7" cy="119.3" r="2.6"/><circle cx="607" cy="101.8" r="2.6"/><circle cx="612" cy="251.4" r="2.6"/><circle cx="663.6" cy="191.8" r="2.6"/><circle cx="541.2" cy="205.2" r="2.6"/><circle cx="572.9" cy="110.7" r="2.6"/><circle cx="540.6" cy="139.9" r="2.6"/><circle cx="660.3" cy="170.6" r="2.6"/><circle cx="625.2" cy="112.8" r="2.6"/><circle cx="608.1" cy="245.7" r="2.6"/><circle cx="668.7" cy="162.6" r="2.6"/><circle cx="625.7" cy="211.2" r="2.6"/><circle cx="652.4" cy="164.8" r="2.6"/><circle cx="653.1" cy="193.5" r="2.6"/><circle cx="571.8" cy="233.8" r="2.6"/><circle cx="540.4" cy="141.2" r="2.6"/><circle cx="570" cy="130.7" r="2.6"/><circle cx="632.2" cy="222.7" r="2.6"/><circle cx="532.8" cy="199.9" r="2.6"/><circle cx="562.6" cy="224.7" r="2.6"/><circle cx="650.6" cy="155.2" r="2.6"/><circle cx="646.4" cy="170.7" r="2.6"/><circle cx="613" cy="224.2" r="2.6"/><circle cx="643" cy="160.6" r="2.6"/><circle cx="616.9" cy="123.9" r="2.6"/><circle cx="595.6" cy="114.6" r="2.6"/><circle cx="650.2" cy="178.8" r="2.6"/><circle cx="574.3" cy="141.8" r="2.6"/><circle cx="628.9" cy="145.7" r="2.6"/><circle cx="609.3" cy="118.3" r="2.6"/><circle cx="546.4" cy="187.4" r="2.6"/><circle cx="562.1" cy="153.5" r="2.6"/><circle cx="572.2" cy="143.6" r="2.6"/><circle cx="577" cy="205.5" r="2.6"/><circle cx="576.9" cy="208" r="2.6"/><circle cx="617.1" cy="119" r="2.6"/><circle cx="582.1" cy="214.2" r="2.6"/><circle cx="557.2" cy="197.1" r="2.6"/><circle cx="649.2" cy="176.7" r="2.6"/><circle cx="578" cy="211.3" r="2.6"/><circle cx="595.6" cy="118.8" r="2.6"/><circle cx="576.8" cy="147.1" r="2.6"/><circle cx="578.9" cy="142.9" r="2.6"/><circle cx="645.7" cy="169" r="2.6"/><circle cx="559.6" cy="201.1" r="2.6"/><circle cx="544.9" cy="174.4" r="2.6"/><circle cx="618.2" cy="112.9" r="2.6"/><circle cx="608.1" cy="115" r="2.6"/><circle cx="579.5" cy="133.8" r="2.6"/><circle cx="624.1" cy="132.7" r="2.6"/><circle cx="603.8" cy="234.5" r="2.6"/><circle cx="549.6" cy="199.8" r="2.6"/><circle cx="553.4" cy="178.1" r="2.6"/><circle cx="612.7" cy="120.4" r="2.6"/><circle cx="594.1" cy="233.6" r="2.6"/><circle cx="646" cy="189.6" r="2.6"/><circle cx="577.2" cy="144" r="2.6"/><circle cx="640.4" cy="190.7" r="2.6"/><circle cx="625.8" cy="133.3" r="2.6"/><circle cx="622.1" cy="206.2" r="2.6"/><circle cx="626" cy="137.3" r="2.6"/><circle cx="551.1" cy="180.5" r="2.6"/><circle cx="553.8" cy="183.2" r="2.6"/><circle cx="641.7" cy="190" r="2.6"/><circle cx="615.6" cy="117.4" r="2.6"/><circle cx="558.5" cy="194.3" r="2.6"/><circle cx="590" cy="228.2" r="2.6"/><circle cx="553" cy="183.4" r="2.6"/><circle cx="643.8" cy="154" r="2.6"/><circle cx="629.6" cy="145.2" r="2.6"/><circle cx="628.6" cy="143.8" r="2.6"/><circle cx="612.6" cy="220.5" r="2.6"/><circle cx="626.2" cy="202.7" r="2.6"/><circle cx="569.3" cy="146.2" r="2.6"/><circle cx="552.6" cy="177.7" r="2.6"/><circle cx="563.1" cy="204.8" r="2.6"/><circle cx="576.7" cy="141.4" r="2.6"/><circle cx="564" cy="155.8" r="2.6"/><circle cx="563.1" cy="203.5" r="2.6"/><circle cx="551.9" cy="192.8" r="2.6"/><circle cx="590.5" cy="222.4" r="2.6"/><circle cx="571.3" cy="217.2" r="2.6"/><circle cx="607.9" cy="113.8" r="2.6"/><circle cx="543.2" cy="180.9" r="2.6"/><circle cx="570.4" cy="214.3" r="2.6"/><circle cx="615.1" cy="118.3" r="2.6"/><circle cx="570.4" cy="208.8" r="2.6"/><circle cx="550" cy="173.6" r="2.6"/><circle cx="555.4" cy="181.4" r="2.6"/><circle cx="557.4" cy="169.8" r="2.6"/><circle cx="575.5" cy="143.1" r="2.6"/><circle cx="557.5" cy="192.4" r="2.6"/><circle cx="626.7" cy="138.6" r="2.6"/><circle cx="558" cy="194.2" r="2.6"/><circle cx="606" cy="224.8" r="2.6"/><circle cx="605.9" cy="226.3" r="2.6"/><circle cx="647.6" cy="183" r="2.6"/><circle cx="629.4" cy="199.4" r="2.6"/><circle cx="646.3" cy="188.4" r="2.6"/><circle cx="585.4" cy="222.6" r="2.6"/><circle cx="574.9" cy="142.9" r="2.6"/><circle cx="618.8" cy="120.7" r="2.6"/><circle cx="554.3" cy="165.4" r="2.6"/><circle cx="627" cy="141.7" r="2.6"/><circle cx="550.3" cy="178.6" r="2.6"/><circle cx="620.6" cy="221.6" r="2.6"/><circle cx="556.2" cy="178.9" r="2.6"/><circle cx="548.7" cy="191.1" r="2.6"/><circle cx="564.1" cy="157" r="2.6"/><circle cx="578.7" cy="221" r="2.6"/><circle cx="630.2" cy="149.3" r="2.6"/><circle cx="572.7" cy="209.4" r="2.6"/><circle cx="578.2" cy="127.1" r="2.6"/><circle cx="650.4" cy="168.7" r="2.6"/><circle cx="589.7" cy="118.9" r="2.6"/><circle cx="640.2" cy="157.6" r="2.6"/><circle cx="627.8" cy="145.5" r="2.6"/><circle cx="632.3" cy="145.5" r="2.6"/><circle cx="645.2" cy="174.8" r="2.6"/><circle cx="623" cy="204.5" r="2.6"/><circle cx="584.4" cy="124.2" r="2.6"/><circle cx="607.4" cy="119.5" r="2.6"/><circle cx="560.3" cy="193.8" r="2.6"/><circle cx="644.6" cy="154.8" r="2.6"/><circle cx="552.5" cy="176.4" r="2.6"/><circle cx="597.1" cy="117.9" r="2.6"/><circle cx="647.9" cy="185.4" r="2.6"/><circle cx="650.3" cy="170.8" r="2.6"/><circle cx="617.6" cy="217.7" r="2.6"/><circle cx="627.2" cy="146.8" r="2.6"/><circle cx="643.4" cy="187.4" r="2.6"/><circle cx="610.5" cy="221.3" r="2.6"/><circle cx="543.9" cy="183" r="2.6"/><circle cx="570.8" cy="202.6" r="2.6"/><circle cx="585.8" cy="115.7" r="2.6"/><circle cx="563.7" cy="207.8" r="2.6"/><circle cx="597" cy="233.1" r="2.6"/><circle cx="589.8" cy="229.1" r="2.6"/><circle cx="636.3" cy="192.7" r="2.6"/><circle cx="648.2" cy="160.2" r="2.6"/><circle cx="637.7" cy="193.5" r="2.6"/><circle cx="561.9" cy="150.9" r="2.6"/><circle cx="566.4" cy="210.1" r="2.6"/><circle cx="585.1" cy="124.2" r="2.6"/><circle cx="556.8" cy="184.3" r="2.6"/><circle cx="577.8" cy="207.2" r="2.6"/><circle cx="570.8" cy="148.2" r="2.6"/><circle cx="603.9" cy="223.2" r="2.6"/><circle cx="596" cy="229.1" r="2.6"/><circle cx="568.9" cy="144.5" r="2.6"/><circle cx="572.7" cy="143.7" r="2.6"/><circle cx="550.2" cy="188.9" r="2.6"/><circle cx="614.5" cy="121.1" r="2.6"/><circle cx="647.3" cy="166.9" r="2.6"/><circle cx="626.6" cy="142.2" r="2.6"/><circle cx="563.4" cy="157.9" r="2.6"/><circle cx="605.4" cy="116" r="2.6"/><circle cx="644.8" cy="185.7" r="2.6"/><circle cx="628.9" cy="199.7" r="2.6"/><circle cx="571.2" cy="205.1" r="2.6"/><circle cx="577.3" cy="145.4" r="2.6"/><circle cx="581" cy="208.6" r="2.6"/><circle cx="647.3" cy="175.3" r="2.6"/><circle cx="615.4" cy="119.6" r="2.6"/><circle cx="628.8" cy="199.6" r="2.6"/><circle cx="647.4" cy="163.1" r="2.6"/><circle cx="557.9" cy="166.2" r="2.6"/><circle cx="567.3" cy="146.7" r="2.6"/><circle cx="627.9" cy="141.8" r="2.6"/><circle cx="590" cy="119.9" r="2.6"/><circle cx="620.7" cy="130.7" r="2.6"/><circle cx="569.9" cy="151.1" r="2.6"/><circle cx="550.5" cy="189.8" r="2.6"/><circle cx="595.3" cy="117.7" r="2.6"/><circle cx="602.2" cy="119.2" r="2.6"/><circle cx="617.2" cy="224.6" r="2.6"/><circle cx="591.2" cy="230.5" r="2.6"/><circle cx="555.4" cy="157.2" r="2.6"/><circle cx="630" cy="148.7" r="2.6"/><circle cx="585.4" cy="217.8" r="2.6"/><circle cx="558.4" cy="160.8" r="2.6"/><circle cx="555.6" cy="179.1" r="2.6"/><circle cx="608.2" cy="109.3" r="2.6"/><circle cx="618.5" cy="128.6" r="2.6"/><circle cx="551.7" cy="184.4" r="2.6"/><circle cx="625.3" cy="131" r="2.6"/><circle cx="579.7" cy="207.9" r="2.6"/><circle cx="563.1" cy="146.4" r="2.6"/><circle cx="651.2" cy="167.3" r="2.6"/><circle cx="559.5" cy="195.3" r="2.6"/><circle cx="554.2" cy="196.4" r="2.6"/><circle cx="588.9" cy="220.9" r="2.6"/><circle cx="646.4" cy="156.7" r="2.6"/><circle cx="555.8" cy="169" r="2.6"/><circle cx="550.3" cy="169.2" r="2.6"/><circle cx="644.8" cy="188.1" r="2.6"/><circle cx="619.8" cy="215.7" r="2.6"/><circle cx="581.7" cy="211.3" r="2.6"/><circle cx="578.8" cy="210.5" r="2.6"/><circle cx="581.9" cy="124.4" r="2.6"/><circle cx="645.2" cy="187" r="2.6"/></g><g fill="#BEBEBE"><circle cx="557.1" cy="104.3" r="2.6"/><circle cx="554.1" cy="118.7" r="2.6"/><circle cx="556.3" cy="122.4" r="2.6"/><circle cx="560.7" cy="118.4" r="2.6"/><circle cx="531.1" cy="129" r="2.6"/><circle cx="504.2" cy="142.3" r="2.6"/><circle cx="484.4" cy="151.6" r="2.6"/><circle cx="489.5" cy="149.4" r="2.6"/><circle cx="498" cy="148.6" r="2.6"/><circle cx="494.7" cy="155.5" r="2.6"/><circle cx="512.6" cy="153.5" r="2.6"/><circle cx="527" cy="145.7" r="2.6"/><circle cx="531.4" cy="140.6" r="2.6"/><circle cx="535" cy="142" r="2.6"/><circle cx="547.5" cy="146.4" r="2.6"/><circle cx="543.1" cy="150.8" r="2.6"/><circle cx="555.6" cy="132.5" r="2.6"/><circle cx="532.5" cy="156" r="2.6"/><circle cx="535.5" cy="161.9" r="2.6"/><circle cx="526.2" cy="169.2" r="2.6"/><circle cx="527.7" cy="167.7" r="2.6"/><circle cx="542.4" cy="159.4" r="2.6"/><circle cx="473.4" cy="181.4" r="2.6"/><circle cx="480.7" cy="181.4" r="2.6"/><circle cx="479.2" cy="190.2" r="2.6"/><circle cx="497.6" cy="181" r="2.6"/><circle cx="507.6" cy="177" r="2.6"/><circle cx="514.5" cy="186.8" r="2.6"/><circle cx="518.9" cy="183.9" r="2.6"/><circle cx="513.7" cy="195.6" r="2.6"/><circle cx="528" cy="194.2" r="2.6"/><circle cx="531.1" cy="176.5" r="2.6"/><circle cx="531.4" cy="181" r="2.6"/><circle cx="540.9" cy="188.3" r="2.6"/><circle cx="543.9" cy="190.5" r="2.6"/><circle cx="541.6" cy="196.1" r="2.6"/><circle cx="557.8" cy="203.7" r="2.6"/><circle cx="560.7" cy="208.1" r="2.6"/><circle cx="556.3" cy="216.9" r="2.6"/><circle cx="557.7" cy="246" r="2.6"/><circle cx="563.8" cy="258.3" r="2.6"/><circle cx="560.7" cy="264.7" r="2.6"/><circle cx="577" cy="30.3" r="2.6"/><circle cx="602" cy="32.3" r="2.6"/><circle cx="619.2" cy="59.2" r="2.6"/><circle cx="596.1" cy="68" r="2.6"/><circle cx="604.9" cy="69" r="2.6"/><circle cx="569.7" cy="77.9" r="2.6"/><circle cx="595.1" cy="80.1" r="2.6"/><circle cx="617.4" cy="82.3" r="2.6"/><circle cx="642.8" cy="92.2" r="2.6"/><circle cx="572.9" cy="101.8" r="2.6"/><circle cx="587.3" cy="101.8" r="2.6"/><circle cx="594.7" cy="99.6" r="2.6"/><circle cx="600.5" cy="92.2" r="2.6"/><circle cx="599.1" cy="96.6" r="2.6"/><circle cx="602" cy="95.2" r="2.6"/><circle cx="606.8" cy="94" r="2.6"/><circle cx="612.3" cy="98.1" r="2.6"/><circle cx="611.1" cy="102.8" r="2.6"/><circle cx="591.4" cy="108.1" r="2.6"/><circle cx="597.6" cy="105.5" r="2.6"/><circle cx="602" cy="104" r="2.6"/><circle cx="603.5" cy="109.1" r="2.6"/><circle cx="584.4" cy="112.8" r="2.6"/><circle cx="585.1" cy="117.9" r="2.6"/><circle cx="590.2" cy="116.5" r="2.6"/><circle cx="592.5" cy="120.1" r="2.6"/><circle cx="599.1" cy="112.8" r="2.6"/><circle cx="600.5" cy="118.7" r="2.6"/><circle cx="605.7" cy="115" r="2.6"/><circle cx="612.3" cy="114.3" r="2.6"/><circle cx="615.2" cy="113.5" r="2.6"/><circle cx="616.7" cy="111.3" r="2.6"/><circle cx="611.5" cy="118.7" r="2.6"/><circle cx="613.7" cy="121.6" r="2.6"/><circle cx="560.9" cy="118.7" r="2.6"/><circle cx="570.1" cy="121.6" r="2.6"/><circle cx="629.2" cy="117.9" r="2.6"/><circle cx="640.9" cy="123.1" r="2.6"/><circle cx="641.7" cy="125.3" r="2.6"/><circle cx="572.6" cy="128.7" r="2.6"/><circle cx="579.2" cy="129" r="2.6"/><circle cx="624" cy="127.5" r="2.6"/><circle cx="652.7" cy="129.7" r="2.6"/><circle cx="653.1" cy="130" r="2.6"/><circle cx="641.5" cy="124.1" r="2.6"/><circle cx="641.5" cy="142.6" r="2.6"/><circle cx="648" cy="151.3" r="2.6"/><circle cx="641.5" cy="151.7" r="2.6"/><circle cx="676.7" cy="152.7" r="2.6"/><circle cx="692.1" cy="155.7" r="2.6"/><circle cx="688.7" cy="159.6" r="2.6"/><circle cx="680.7" cy="165.1" r="2.6"/><circle cx="683.7" cy="166.3" r="2.6"/><circle cx="688" cy="165.4" r="2.6"/><circle cx="702.9" cy="171.2" r="2.6"/><circle cx="711.7" cy="172.4" r="2.6"/><circle cx="681.5" cy="175" r="2.6"/><circle cx="681.5" cy="188.7" r="2.6"/><circle cx="669.1" cy="173.8" r="2.6"/><circle cx="667.6" cy="176.8" r="2.6"/><circle cx="669.8" cy="186.2" r="2.6"/><circle cx="667.4" cy="190.3" r="2.6"/><circle cx="670.6" cy="195" r="2.6"/><circle cx="657.5" cy="157.1" r="2.6"/><circle cx="659.6" cy="159.3" r="2.6"/><circle cx="651.6" cy="158.6" r="2.6"/><circle cx="664.7" cy="162.2" r="2.6"/><circle cx="666.2" cy="166.6" r="2.6"/><circle cx="663.3" cy="166.6" r="2.6"/><circle cx="656" cy="169.5" r="2.6"/><circle cx="658.9" cy="170.2" r="2.6"/><circle cx="663.3" cy="171.7" r="2.6"/><circle cx="658.2" cy="173.8" r="2.6"/><circle cx="655.3" cy="182.6" r="2.6"/><circle cx="661.8" cy="181.1" r="2.6"/><circle cx="662.6" cy="184" r="2.6"/><circle cx="648.7" cy="186.9" r="2.6"/><circle cx="652.4" cy="187.7" r="2.6"/><circle cx="645.8" cy="189.8" r="2.6"/><circle cx="648" cy="190.6" r="2.6"/><circle cx="653.8" cy="198.6" r="2.6"/><circle cx="657.5" cy="198.3" r="2.6"/><circle cx="645.8" cy="203.2" r="2.6"/><circle cx="656" cy="206.1" r="2.6"/><circle cx="663.3" cy="205.6" r="2.6"/><circle cx="664.4" cy="205.1" r="2.6"/><circle cx="651.6" cy="212.4" r="2.6"/><circle cx="650.2" cy="216.8" r="2.6"/><circle cx="656.3" cy="221.6" r="2.6"/><circle cx="640.7" cy="216.8" r="2.6"/><circle cx="642.9" cy="224.8" r="2.6"/><circle cx="647.3" cy="224" r="2.6"/><circle cx="641.5" cy="231.3" r="2.6"/><circle cx="573.4" cy="257.2" r="2.6"/><circle cx="578.3" cy="260.6" r="2.6"/><circle cx="576.8" cy="240.7" r="2.6"/><circle cx="581.1" cy="236.1" r="2.6"/><circle cx="586" cy="236.1" r="2.6"/><circle cx="586" cy="240.7" r="2.6"/><circle cx="589.5" cy="244.8" r="2.6"/><circle cx="586.7" cy="250.6" r="2.6"/><circle cx="589" cy="250.6" r="2.6"/><circle cx="595.1" cy="253.7" r="2.6"/><circle cx="598.2" cy="257.5" r="2.6"/><circle cx="597.4" cy="259.8" r="2.6"/><circle cx="590.6" cy="258.7" r="2.6"/><circle cx="604.3" cy="258.3" r="2.6"/><circle cx="593.9" cy="268.5" r="2.6"/><circle cx="602" cy="248.3" r="2.6"/><circle cx="602" cy="252.9" r="2.6"/><circle cx="606.6" cy="252.2" r="2.6"/><circle cx="608.1" cy="248.3" r="2.6"/><circle cx="605.8" cy="244.5" r="2.6"/><circle cx="610.4" cy="242.2" r="2.6"/><circle cx="613.5" cy="243" r="2.6"/><circle cx="617.3" cy="243.8" r="2.6"/><circle cx="607.4" cy="237.6" r="2.6"/><circle cx="610.4" cy="233.8" r="2.6"/><circle cx="611.9" cy="238.4" r="2.6"/><circle cx="614.2" cy="248.3" r="2.6"/><circle cx="618.8" cy="255.2" r="2.6"/><circle cx="620.4" cy="251.4" r="2.6"/><circle cx="617.3" cy="262.8" r="2.6"/><circle cx="619.6" cy="266.7" r="2.6"/><circle cx="619.6" cy="238.4" r="2.6"/><circle cx="626.2" cy="239.2" r="2.6"/><circle cx="626.2" cy="248" r="2.6"/><circle cx="627.5" cy="266.1" r="2.6"/><circle cx="637.6" cy="243.8" r="2.6"/><circle cx="640.5" cy="231.5" r="2.6"/><circle cx="644.3" cy="254.1" r="2.6"/><circle cx="656.3" cy="272" r="2.6"/><circle cx="602.8" cy="277.1" r="2.6"/><circle cx="595.9" cy="291.6" r="2.6"/><circle cx="600.9" cy="305.2" r="2.6"/><circle cx="585.5" cy="312" r="2.6"/><circle cx="604" cy="352.2" r="2.6"/><circle cx="469.7" cy="35.7" r="2.6"/><circle cx="469.7" cy="109.4" r="2.6"/><circle cx="469.7" cy="126" r="2.6"/><circle cx="469.7" cy="128.7" r="2.6"/></g><path d="M469.7 135.4V196.4" stroke="#BEBEBE" stroke-width="5.2" stroke-linecap="round"/><path d="M735.3 140.4V192.8" stroke="#BEBEBE" stroke-width="5.2" stroke-linecap="round"/><path d="M735.3 197.1V202.9" stroke="#BEBEBE" stroke-width="5.2" stroke-linecap="round"/><path d="M735.3 219.7V224" stroke="#BEBEBE" stroke-width="5.2" stroke-linecap="round"/><g fill="#0000FF"><circle cx="487" cy="200" r="2.6"/><circle cx="520.4" cy="200.5" r="2.6"/><circle cx="517.9" cy="207.8" r="2.6"/><circle cx="510.2" cy="219.9" r="2.6"/><circle cx="526.2" cy="218.7" r="2.6"/><circle cx="540.9" cy="198.6" r="2.6"/><circle cx="551.2" cy="198.6" r="2.6"/><circle cx="539.4" cy="205.9" r="2.6"/><circle cx="542.4" cy="207.8" r="2.6"/><circle cx="547.5" cy="205.2" r="2.6"/><circle cx="547.8" cy="212.5" r="2.6"/><circle cx="555.6" cy="213.3" r="2.6"/><circle cx="550.5" cy="218.7" r="2.6"/><circle cx="538.3" cy="222.8" r="2.6"/><circle cx="557.8" cy="231.3" r="2.6"/><circle cx="563.7" cy="238.2" r="2.6"/><circle cx="564.4" cy="216.2" r="2.6"/><circle cx="518.1" cy="252.6" r="2.6"/><circle cx="529.4" cy="253.4" r="2.6"/><circle cx="534.9" cy="244.1" r="2.6"/><circle cx="541.6" cy="245.7" r="2.6"/><circle cx="563.8" cy="329.6" r="2.6"/><circle cx="469.8" cy="199.2" r="2.6"/><circle cx="469.8" cy="204.9" r="2.6"/><circle cx="469.8" cy="207.7" r="2.6"/><circle cx="469.8" cy="214.1" r="2.6"/><circle cx="469.8" cy="218.7" r="2.6"/><circle cx="469.8" cy="223" r="2.6"/><circle cx="469.8" cy="229" r="2.6"/><circle cx="469.8" cy="231.8" r="2.6"/><circle cx="469.8" cy="235.4" r="2.6"/><circle cx="469.8" cy="239.6" r="2.6"/><circle cx="469.8" cy="248.2" r="2.6"/></g><g fill="#FF0000"><circle cx="665.5" cy="85.2" r="2.6"/><circle cx="632.5" cy="130" r="2.6"/><circle cx="735.3" cy="102.4" r="2.6"/><circle cx="735.3" cy="116.2" r="2.6"/><circle cx="735.3" cy="118" r="2.6"/><circle cx="735.3" cy="123.2" r="2.6"/><circle cx="666.9" cy="130.5" r="2.6"/><circle cx="682.6" cy="136.3" r="2.6"/><circle cx="669.8" cy="142.6" r="2.6"/><circle cx="669.8" cy="145.9" r="2.6"/><circle cx="660.1" cy="145.5" r="2.6"/><circle cx="694.6" cy="145.5" r="2.6"/><circle cx="735.3" cy="134.6" r="2.6"/><circle cx="630" cy="141.7" r="2.6"/></g><path d="M456 147.8H748.5M456 197.2H748.5M582.3 14V368M622.3 14V368" stroke="#000" stroke-width="1.2" fill="none"/></g><text transform="translate(451 77.3) scale(1 1.05)" font-size="9.6" fill="#4D4D4D" text-anchor="end">4</text><text transform="translate(451 176.1) scale(1 1.05)" font-size="9.6" fill="#4D4D4D" text-anchor="end">0</text><text transform="translate(451 274.9) scale(1 1.05)" font-size="9.6" fill="#4D4D4D" text-anchor="end">−4</text><text transform="translate(522.3 380.9) scale(1 1.05)" font-size="9.6" fill="#4D4D4D" text-anchor="middle">−4</text><text transform="translate(602.3 380.9) scale(1 1.05)" font-size="9.6" fill="#4D4D4D" text-anchor="middle">0</text><text transform="translate(682.3 380.9) scale(1 1.05)" font-size="9.6" fill="#4D4D4D" text-anchor="middle">4</text><text transform="translate(433.7 191) rotate(-90)" font-size="12.1" fill="#000" text-anchor="middle">RNA_2R</text><text transform="translate(602.7 394.8)" font-size="11.9" fill="#000" text-anchor="middle">PROT_2R</text><text x="601.7" y="425.9" font-size="14.9" fill="#000" text-anchor="middle">R = 0.71, p = 8.9e−12</text><clipPath id="c2"><rect x="32.3" y="477.4" width="292.2" height="354"/></clipPath><path d="M32.3 512.8H324.5M32.3 616.8H324.5M32.3 720.8H324.5M32.3 824.8H324.5M58.3 477.4V831.4M138.3 477.4V831.4M218.3 477.4V831.4M298.3 477.4V831.4" stroke="#EBEBEB" stroke-width="0.7" fill="none"/><path d="M32.3 564.8H324.5M32.3 668.8H324.5M32.3 772.8H324.5M98.3 477.4V831.4M178.3 477.4V831.4M258.3 477.4V831.4" stroke="#EBEBEB" stroke-width="1.1" fill="none"/><g clip-path="url(#c2)"><g fill="#FF0000"><circle cx="207.5" cy="625.9" r="2.6"/></g><path d="M158.3 637 L178 634 L198.3 637 L204 645 L206 660 L205 680 L199 694 L197 721 L192 737 L169 737 L158.8 729.2 L156 712.8 L149.5 701.3 L142.9 694 L139.6 680 L139.6 658.8 L144.6 644 L152.7 639.1 Z" fill="#BEBEBE"/><g fill="#BEBEBE"><circle cx="172" cy="631.3" r="2.6"/><circle cx="159.5" cy="632.6" r="2.6"/><circle cx="177.8" cy="602.4" r="2.6"/><circle cx="188.1" cy="604.6" r="2.6"/><circle cx="191.7" cy="602.7" r="2.6"/><circle cx="182.5" cy="628.8" r="2.6"/><circle cx="164.6" cy="615.5" r="2.6"/><circle cx="190.3" cy="635.1" r="2.6"/><circle cx="179.4" cy="623.3" r="2.6"/><circle cx="157.5" cy="601.6" r="2.6"/><circle cx="170.8" cy="598.4" r="2.6"/><circle cx="174.2" cy="605.1" r="2.6"/><circle cx="191.8" cy="609" r="2.6"/><circle cx="181.6" cy="609.8" r="2.6"/><circle cx="177.3" cy="596.2" r="2.6"/><circle cx="174.3" cy="606.2" r="2.6"/><circle cx="196.6" cy="607.2" r="2.6"/><circle cx="190.2" cy="600.1" r="2.6"/><circle cx="191.1" cy="622.1" r="2.6"/><circle cx="193.2" cy="625.5" r="2.6"/><circle cx="189.9" cy="606.1" r="2.6"/><circle cx="163.9" cy="635" r="2.6"/><circle cx="153.7" cy="609.1" r="2.6"/><circle cx="175.6" cy="614.8" r="2.6"/><circle cx="187.4" cy="632.7" r="2.6"/><circle cx="153.2" cy="604.7" r="2.6"/><circle cx="172.8" cy="621" r="2.6"/><circle cx="164.8" cy="623.7" r="2.6"/><circle cx="169.3" cy="602.6" r="2.6"/><circle cx="177.2" cy="631" r="2.6"/><circle cx="181.9" cy="614.2" r="2.6"/><circle cx="185.5" cy="611.9" r="2.6"/><circle cx="154.3" cy="606.8" r="2.6"/><circle cx="178.9" cy="609.9" r="2.6"/><circle cx="147.5" cy="618.4" r="2.6"/><circle cx="181.1" cy="628.8" r="2.6"/><circle cx="199.2" cy="625.8" r="2.6"/><circle cx="169.4" cy="597.7" r="2.6"/><circle cx="152.6" cy="631" r="2.6"/><circle cx="156.7" cy="619.7" r="2.6"/><circle cx="170.5" cy="606.8" r="2.6"/><circle cx="191.6" cy="601.3" r="2.6"/><circle cx="155.9" cy="630.2" r="2.6"/><circle cx="153.9" cy="624.1" r="2.6"/><circle cx="188.9" cy="599.9" r="2.6"/><circle cx="163.7" cy="620.3" r="2.6"/><circle cx="151.4" cy="621.7" r="2.6"/><circle cx="149.6" cy="625.3" r="2.6"/><circle cx="186" cy="628.9" r="2.6"/><circle cx="186.5" cy="630.5" r="2.6"/><circle cx="151.4" cy="606.8" r="2.6"/><circle cx="176.1" cy="629" r="2.6"/><circle cx="189.8" cy="615.8" r="2.6"/><circle cx="182.6" cy="617.3" r="2.6"/><circle cx="147.9" cy="616.4" r="2.6"/><circle cx="180.4" cy="610.9" r="2.6"/><circle cx="199.3" cy="618.9" r="2.6"/><circle cx="148.7" cy="630.8" r="2.6"/><circle cx="175.2" cy="599.1" r="2.6"/><circle cx="169.9" cy="618.3" r="2.6"/><circle cx="191" cy="619.1" r="2.6"/><circle cx="164.5" cy="608.1" r="2.6"/><circle cx="177.7" cy="606.1" r="2.6"/><circle cx="185.4" cy="596.5" r="2.6"/><circle cx="153.8" cy="636.6" r="2.6"/><circle cx="163.6" cy="611.8" r="2.6"/><circle cx="153.1" cy="615.7" r="2.6"/><circle cx="193.7" cy="629.5" r="2.6"/><circle cx="164.3" cy="634.8" r="2.6"/><circle cx="162.2" cy="635.9" r="2.6"/><circle cx="145.6" cy="627.7" r="2.6"/><circle cx="140.8" cy="685.2" r="2.6"/><circle cx="179.9" cy="631" r="2.6"/><circle cx="162.4" cy="633" r="2.6"/><circle cx="193.2" cy="628.2" r="2.6"/><circle cx="133.1" cy="696.3" r="2.6"/><circle cx="139.8" cy="644.5" r="2.6"/><circle cx="220.9" cy="671.7" r="2.6"/><circle cx="152.9" cy="613" r="2.6"/><circle cx="197.1" cy="729.1" r="2.6"/><circle cx="180.1" cy="624.3" r="2.6"/><circle cx="144.3" cy="699.5" r="2.6"/><circle cx="126.8" cy="656.4" r="2.6"/><circle cx="203.2" cy="643.2" r="2.6"/><circle cx="134" cy="685.8" r="2.6"/><circle cx="202.7" cy="695.4" r="2.6"/><circle cx="206" cy="652.9" r="2.6"/><circle cx="161.2" cy="732.9" r="2.6"/><circle cx="200.1" cy="637.8" r="2.6"/><circle cx="165.4" cy="735.6" r="2.6"/><circle cx="136.6" cy="657.5" r="2.6"/><circle cx="196.9" cy="737.2" r="2.6"/><circle cx="143.7" cy="718.2" r="2.6"/><circle cx="217.8" cy="682.5" r="2.6"/><circle cx="142.4" cy="701.3" r="2.6"/><circle cx="200.3" cy="637.1" r="2.6"/><circle cx="141.7" cy="706.8" r="2.6"/><circle cx="214" cy="650.6" r="2.6"/><circle cx="198.8" cy="705.9" r="2.6"/><circle cx="161.6" cy="734.6" r="2.6"/><circle cx="161.3" cy="731.2" r="2.6"/><circle cx="206.5" cy="695.2" r="2.6"/><circle cx="136.5" cy="698.3" r="2.6"/><circle cx="152.4" cy="639.2" r="2.6"/><circle cx="136.3" cy="651.8" r="2.6"/><circle cx="149.1" cy="638.5" r="2.6"/><circle cx="217.3" cy="669.4" r="2.6"/><circle cx="143" cy="647.4" r="2.6"/><circle cx="153.4" cy="709.5" r="2.6"/><circle cx="141.2" cy="691.6" r="2.6"/><circle cx="207.8" cy="686" r="2.6"/><circle cx="178.1" cy="633.8" r="2.6"/><circle cx="190.7" cy="632.3" r="2.6"/><circle cx="189" cy="622.1" r="2.6"/><circle cx="148.9" cy="703.4" r="2.6"/><circle cx="216.8" cy="658.7" r="2.6"/><circle cx="139.8" cy="689.2" r="2.6"/><circle cx="195.8" cy="627.7" r="2.6"/><circle cx="203.5" cy="695" r="2.6"/><circle cx="134.2" cy="677.9" r="2.6"/><circle cx="147.6" cy="719.4" r="2.6"/><circle cx="132.5" cy="699.6" r="2.6"/><circle cx="173" cy="625" r="2.6"/><circle cx="153.6" cy="635.4" r="2.6"/><circle cx="133.3" cy="679.3" r="2.6"/><circle cx="136.5" cy="681.9" r="2.6"/><circle cx="186.8" cy="632.7" r="2.6"/><circle cx="209.8" cy="687.6" r="2.6"/><circle cx="195.7" cy="612.7" r="2.6"/><circle cx="134.4" cy="652.1" r="2.6"/><circle cx="209.8" cy="663.8" r="2.6"/><circle cx="180.9" cy="738.4" r="2.6"/><circle cx="131.8" cy="692.5" r="2.6"/><circle cx="129.8" cy="667.9" r="2.6"/><circle cx="211.4" cy="681.6" r="2.6"/><circle cx="126" cy="659.8" r="2.6"/><circle cx="155.5" cy="637.9" r="2.6"/><circle cx="140.9" cy="646" r="2.6"/><circle cx="138.3" cy="665.8" r="2.6"/><circle cx="136.8" cy="675.7" r="2.6"/><circle cx="200.6" cy="696.8" r="2.6"/><circle cx="139.8" cy="650" r="2.6"/><circle cx="139.6" cy="660.1" r="2.6"/><circle cx="171.3" cy="623.8" r="2.6"/><circle cx="124.1" cy="683.1" r="2.6"/><circle cx="135.3" cy="707" r="2.6"/><circle cx="137.7" cy="715.5" r="2.6"/><circle cx="130.9" cy="664.2" r="2.6"/><circle cx="128" cy="664.6" r="2.6"/><circle cx="137.4" cy="685.8" r="2.6"/><circle cx="175.5" cy="618.5" r="2.6"/><circle cx="187.8" cy="628" r="2.6"/><circle cx="137.2" cy="666.7" r="2.6"/><circle cx="192.5" cy="613" r="2.6"/><circle cx="159.6" cy="731.7" r="2.6"/><circle cx="166.7" cy="621.3" r="2.6"/><circle cx="207.3" cy="659.8" r="2.6"/><circle cx="177.2" cy="627.5" r="2.6"/><circle cx="195.4" cy="634.7" r="2.6"/><circle cx="139.3" cy="664.1" r="2.6"/><circle cx="206.2" cy="675.8" r="2.6"/><circle cx="213.6" cy="672" r="2.6"/><circle cx="186.4" cy="737.6" r="2.6"/><circle cx="165.5" cy="634" r="2.6"/><circle cx="122.6" cy="663.9" r="2.6"/><circle cx="199.2" cy="711.4" r="2.6"/><circle cx="183.9" cy="625.7" r="2.6"/><circle cx="156.1" cy="731.6" r="2.6"/><circle cx="198.9" cy="697.7" r="2.6"/><circle cx="194.6" cy="608.4" r="2.6"/><circle cx="155.4" cy="726.7" r="2.6"/><circle cx="155.6" cy="725.2" r="2.6"/><circle cx="184.6" cy="741.7" r="2.6"/><circle cx="152.5" cy="718.4" r="2.6"/><circle cx="210.1" cy="667.5" r="2.6"/><circle cx="208.5" cy="682.2" r="2.6"/><circle cx="142.3" cy="639.7" r="2.6"/><circle cx="205.1" cy="651.7" r="2.6"/><circle cx="210.7" cy="651.8" r="2.6"/><circle cx="157" cy="607.2" r="2.6"/><circle cx="139.3" cy="644.9" r="2.6"/><circle cx="184.4" cy="629.5" r="2.6"/><circle cx="144.7" cy="702.4" r="2.6"/><circle cx="156.3" cy="717.2" r="2.6"/><circle cx="133.7" cy="687" r="2.6"/><circle cx="151.5" cy="637" r="2.6"/><circle cx="144.8" cy="715.4" r="2.6"/><circle cx="208.6" cy="672.6" r="2.6"/><circle cx="163.5" cy="636.2" r="2.6"/><circle cx="181.9" cy="739.2" r="2.6"/><circle cx="211" cy="671.5" r="2.6"/><circle cx="138.8" cy="685.2" r="2.6"/><circle cx="138.1" cy="689.1" r="2.6"/><circle cx="150.8" cy="725.5" r="2.6"/><circle cx="136.5" cy="650.3" r="2.6"/><circle cx="175.7" cy="738.7" r="2.6"/><circle cx="134.3" cy="648.2" r="2.6"/><circle cx="135.2" cy="657.1" r="2.6"/><circle cx="160.6" cy="629" r="2.6"/><circle cx="132" cy="668.8" r="2.6"/><circle cx="154" cy="722.3" r="2.6"/><circle cx="163" cy="635.2" r="2.6"/><circle cx="138.1" cy="656" r="2.6"/><circle cx="141.8" cy="704.5" r="2.6"/><circle cx="219.4" cy="680.4" r="2.6"/><circle cx="188.5" cy="629.4" r="2.6"/><circle cx="194.7" cy="616.1" r="2.6"/><circle cx="131.6" cy="646.3" r="2.6"/><circle cx="148.6" cy="708" r="2.6"/><circle cx="153.8" cy="737.1" r="2.6"/><circle cx="139.4" cy="646.7" r="2.6"/><circle cx="216.5" cy="665.1" r="2.6"/><circle cx="155.7" cy="713.6" r="2.6"/><circle cx="193.2" cy="633.2" r="2.6"/><circle cx="154.6" cy="626.4" r="2.6"/><circle cx="153.9" cy="626.2" r="2.6"/><circle cx="129.4" cy="678.7" r="2.6"/><circle cx="179.9" cy="626.3" r="2.6"/><circle cx="162.5" cy="603.7" r="2.6"/><circle cx="198.7" cy="703.1" r="2.6"/><circle cx="153.8" cy="634.5" r="2.6"/><circle cx="145.5" cy="639.9" r="2.6"/><circle cx="193.7" cy="613.9" r="2.6"/><circle cx="159.8" cy="629.6" r="2.6"/><circle cx="155.5" cy="728.1" r="2.6"/><circle cx="147.5" cy="700" r="2.6"/><circle cx="167.9" cy="622.3" r="2.6"/><circle cx="172.5" cy="632.2" r="2.6"/><circle cx="123.2" cy="665.6" r="2.6"/><circle cx="137.6" cy="658.4" r="2.6"/><circle cx="211.6" cy="676.7" r="2.6"/><circle cx="129.4" cy="664.4" r="2.6"/><circle cx="208.9" cy="646.3" r="2.6"/><circle cx="166.4" cy="738.6" r="2.6"/><circle cx="139.1" cy="640.2" r="2.6"/><circle cx="175.6" cy="623" r="2.6"/><circle cx="157.4" cy="610.4" r="2.6"/><circle cx="206" cy="659.1" r="2.6"/><circle cx="212.4" cy="678.1" r="2.6"/><circle cx="165.2" cy="735.1" r="2.6"/><circle cx="150.4" cy="633.2" r="2.6"/><circle cx="160" cy="733.2" r="2.6"/><circle cx="165" cy="634.5" r="2.6"/><circle cx="179.2" cy="625" r="2.6"/><circle cx="149" cy="705.8" r="2.6"/><circle cx="144.9" cy="724.4" r="2.6"/><circle cx="206.2" cy="644.1" r="2.6"/><circle cx="196.4" cy="725.7" r="2.6"/><circle cx="197.7" cy="629.3" r="2.6"/><circle cx="190.2" cy="739.4" r="2.6"/><circle cx="194.5" cy="735.9" r="2.6"/><circle cx="202" cy="694.9" r="2.6"/><circle cx="202.2" cy="692.3" r="2.6"/><circle cx="190.4" cy="738.3" r="2.6"/><circle cx="150.7" cy="724.2" r="2.6"/><circle cx="150.3" cy="637.3" r="2.6"/><circle cx="183.8" cy="740" r="2.6"/><circle cx="198.4" cy="704.1" r="2.6"/><circle cx="144.9" cy="696.3" r="2.6"/><circle cx="211.3" cy="650" r="2.6"/><circle cx="150.1" cy="702.7" r="2.6"/><circle cx="141.9" cy="643" r="2.6"/><circle cx="132.4" cy="654.2" r="2.6"/><circle cx="196.3" cy="734.7" r="2.6"/><circle cx="147.8" cy="727.5" r="2.6"/><circle cx="141.8" cy="634.1" r="2.6"/><circle cx="201.1" cy="701.9" r="2.6"/><circle cx="186.2" cy="631.7" r="2.6"/><circle cx="194.1" cy="734.4" r="2.6"/><circle cx="148.2" cy="627.4" r="2.6"/><circle cx="149.6" cy="728" r="2.6"/><circle cx="157.5" cy="634.7" r="2.6"/><circle cx="196.1" cy="610.3" r="2.6"/><circle cx="137.8" cy="641.2" r="2.6"/><circle cx="139.3" cy="687.6" r="2.6"/><circle cx="183.6" cy="738" r="2.6"/><circle cx="140.4" cy="639.1" r="2.6"/><circle cx="142" cy="712.3" r="2.6"/><circle cx="174.3" cy="741" r="2.6"/><circle cx="209" cy="670.2" r="2.6"/><circle cx="154.9" cy="737.7" r="2.6"/><circle cx="209.8" cy="642.9" r="2.6"/><circle cx="142.5" cy="638.8" r="2.6"/></g><g fill="#BEBEBE"><circle cx="102.3" cy="608.8" r="2.6"/><circle cx="126" cy="610" r="2.6"/><circle cx="90.4" cy="617.9" r="2.6"/><circle cx="104.4" cy="620.7" r="2.6"/><circle cx="99.5" cy="628.3" r="2.6"/><circle cx="100.3" cy="634.4" r="2.6"/><circle cx="129.3" cy="628.3" r="2.6"/><circle cx="122.4" cy="633.5" r="2.6"/><circle cx="94.9" cy="639.3" r="2.6"/><circle cx="103.3" cy="640.8" r="2.6"/><circle cx="112.5" cy="639.3" r="2.6"/><circle cx="117.4" cy="639.3" r="2.6"/><circle cx="112.5" cy="644.7" r="2.6"/><circle cx="118.3" cy="645.9" r="2.6"/><circle cx="93.9" cy="647.7" r="2.6"/><circle cx="101.8" cy="654.3" r="2.6"/><circle cx="104.9" cy="653.1" r="2.6"/><circle cx="113.3" cy="651.5" r="2.6"/><circle cx="109.4" cy="662.2" r="2.6"/><circle cx="113.3" cy="660.7" r="2.6"/><circle cx="125.5" cy="659.5" r="2.6"/><circle cx="59.8" cy="666" r="2.6"/><circle cx="92.6" cy="669.6" r="2.6"/><circle cx="99.5" cy="666.8" r="2.6"/><circle cx="98" cy="671.4" r="2.6"/><circle cx="92.6" cy="677.5" r="2.6"/><circle cx="133.9" cy="630.1" r="2.6"/><circle cx="137" cy="621" r="2.6"/><circle cx="138.5" cy="616.4" r="2.6"/><circle cx="133.9" cy="639" r="2.6"/><circle cx="138.5" cy="636.3" r="2.6"/><circle cx="124.7" cy="642.4" r="2.6"/><circle cx="129.3" cy="647" r="2.6"/><circle cx="132.4" cy="645.4" r="2.6"/><circle cx="137" cy="650" r="2.6"/><circle cx="84.2" cy="685.3" r="2.6"/><circle cx="88.1" cy="686" r="2.6"/><circle cx="91.9" cy="684.5" r="2.6"/><circle cx="99.5" cy="687.6" r="2.6"/><circle cx="97.2" cy="671.5" r="2.6"/><circle cx="101.8" cy="677.6" r="2.6"/><circle cx="106.4" cy="679.2" r="2.6"/><circle cx="104.9" cy="674.6" r="2.6"/><circle cx="114" cy="685.3" r="2.6"/><circle cx="114.8" cy="692.9" r="2.6"/><circle cx="135.4" cy="709" r="2.6"/><circle cx="137" cy="715.8" r="2.6"/><circle cx="134.7" cy="718.1" r="2.6"/><circle cx="137.7" cy="731.1" r="2.6"/><circle cx="131.6" cy="733.4" r="2.6"/><circle cx="132.1" cy="736.5" r="2.6"/><circle cx="134.7" cy="759.4" r="2.6"/><circle cx="140" cy="746.4" r="2.6"/><circle cx="216.3" cy="699.1" r="2.6"/><circle cx="211.7" cy="703.2" r="2.6"/><circle cx="206.4" cy="709" r="2.6"/><circle cx="207.2" cy="715.1" r="2.6"/><circle cx="201.8" cy="724.3" r="2.6"/><circle cx="200.3" cy="720.5" r="2.6"/><circle cx="204.1" cy="730.4" r="2.6"/><circle cx="207.9" cy="732.3" r="2.6"/><circle cx="231.1" cy="719" r="2.6"/><circle cx="220.5" cy="724" r="2.6"/><circle cx="237" cy="725.1" r="2.6"/><circle cx="216.8" cy="744.2" r="2.6"/><circle cx="204.6" cy="746.8" r="2.6"/><circle cx="206.1" cy="760.2" r="2.6"/><circle cx="194.2" cy="757.9" r="2.6"/><circle cx="188.5" cy="756.4" r="2.6"/><circle cx="189.6" cy="751.8" r="2.6"/><circle cx="188.1" cy="766.3" r="2.6"/><circle cx="179.2" cy="757.2" r="2.6"/><circle cx="163.6" cy="757.9" r="2.6"/><circle cx="166.7" cy="757.2" r="2.6"/><circle cx="169" cy="757.9" r="2.6"/><circle cx="166.7" cy="762.5" r="2.6"/><circle cx="160.6" cy="762.5" r="2.6"/><circle cx="162.1" cy="769.1" r="2.6"/><circle cx="134.9" cy="759.1" r="2.6"/><circle cx="148" cy="751" r="2.6"/><circle cx="149.9" cy="748.8" r="2.6"/><circle cx="142.2" cy="744.9" r="2.6"/><circle cx="141.5" cy="746.5" r="2.6"/><circle cx="137.3" cy="731.2" r="2.6"/><circle cx="131.5" cy="735.8" r="2.6"/><circle cx="170" cy="785.1" r="2.6"/><circle cx="160.6" cy="790.3" r="2.6"/><circle cx="180" cy="791.2" r="2.6"/><circle cx="190.8" cy="798.4" r="2.6"/><circle cx="178.9" cy="809.9" r="2.6"/><circle cx="165.4" cy="815.2" r="2.6"/><circle cx="163.6" cy="748.8" r="2.6"/><circle cx="165.1" cy="742.6" r="2.6"/><circle cx="162.1" cy="741.1" r="2.6"/><circle cx="171.3" cy="747.2" r="2.6"/><circle cx="173.5" cy="751" r="2.6"/><circle cx="175.8" cy="745.7" r="2.6"/><circle cx="184.2" cy="742.6" r="2.6"/><circle cx="189.6" cy="741.9" r="2.6"/><circle cx="189.6" cy="744.2" r="2.6"/><circle cx="178.9" cy="744.9" r="2.6"/><circle cx="155.2" cy="754.9" r="2.6"/><circle cx="154.4" cy="757.9" r="2.6"/><circle cx="195.7" cy="735" r="2.6"/><circle cx="195.7" cy="737.3" r="2.6"/><circle cx="187.3" cy="735.8" r="2.6"/><circle cx="172.1" cy="509.6" r="2.6"/><circle cx="183.3" cy="513.6" r="2.6"/><circle cx="150.8" cy="524.5" r="2.6"/><circle cx="177.4" cy="525.7" r="2.6"/><circle cx="176.6" cy="546.2" r="2.6"/><circle cx="167.3" cy="552.4" r="2.6"/><circle cx="186.5" cy="552.4" r="2.6"/><circle cx="182.2" cy="555.6" r="2.6"/><circle cx="184.4" cy="557.4" r="2.6"/><circle cx="194.5" cy="563.8" r="2.6"/><circle cx="176.1" cy="567" r="2.6"/><circle cx="152.4" cy="573.4" r="2.6"/><circle cx="164.9" cy="573.4" r="2.6"/><circle cx="176.1" cy="578.1" r="2.6"/><circle cx="175.3" cy="582.1" r="2.6"/><circle cx="188.6" cy="578.1" r="2.6"/><circle cx="160.1" cy="579.8" r="2.6"/><circle cx="160.9" cy="585.4" r="2.6"/><circle cx="170.5" cy="583" r="2.6"/><circle cx="150.1" cy="587.8" r="2.6"/><circle cx="154" cy="589.7" r="2.6"/><circle cx="163.6" cy="589.7" r="2.6"/><circle cx="175.3" cy="588.9" r="2.6"/><circle cx="178.5" cy="589.4" r="2.6"/><circle cx="184.9" cy="585.7" r="2.6"/><circle cx="188.1" cy="588.1" r="2.6"/><circle cx="195.3" cy="589.7" r="2.6"/><circle cx="146.9" cy="597.3" r="2.6"/><circle cx="162.9" cy="595.4" r="2.6"/><circle cx="169.7" cy="594.6" r="2.6"/><circle cx="172.9" cy="594.6" r="2.6"/><circle cx="180.1" cy="595.4" r="2.6"/><circle cx="196.9" cy="595.4" r="2.6"/><circle cx="191.3" cy="599.4" r="2.6"/><circle cx="193.7" cy="601.8" r="2.6"/><circle cx="126.1" cy="609.8" r="2.6"/><circle cx="148.5" cy="610.3" r="2.6"/><circle cx="156.5" cy="605.4" r="2.6"/><circle cx="154.4" cy="612.2" r="2.6"/><circle cx="184.1" cy="605" r="2.6"/><circle cx="192.1" cy="608.2" r="2.6"/><circle cx="187.3" cy="609.8" r="2.6"/><circle cx="141.6" cy="614.1" r="2.6"/><circle cx="216.8" cy="625.6" r="2.6"/><circle cx="209.3" cy="623.4" r="2.6"/><circle cx="219.6" cy="645.4" r="2.6"/><circle cx="216.5" cy="645.4" r="2.6"/><circle cx="225.7" cy="650" r="2.6"/><circle cx="244" cy="651.5" r="2.6"/><circle cx="246.8" cy="648.8" r="2.6"/><circle cx="218.1" cy="653.1" r="2.6"/><circle cx="216.5" cy="655.4" r="2.6"/><circle cx="226.5" cy="660" r="2.6"/><circle cx="233.3" cy="662.2" r="2.6"/><circle cx="239.8" cy="662.2" r="2.6"/><circle cx="247.1" cy="665" r="2.6"/><circle cx="244" cy="668.3" r="2.6"/><circle cx="243.3" cy="673.2" r="2.6"/><circle cx="221.1" cy="666.8" r="2.6"/><circle cx="228" cy="666.1" r="2.6"/><circle cx="230.3" cy="669.9" r="2.6"/><circle cx="225.7" cy="671.7" r="2.6"/><circle cx="216.5" cy="663" r="2.6"/><circle cx="218.1" cy="674.5" r="2.6"/><circle cx="235.6" cy="678.3" r="2.6"/><circle cx="239.4" cy="679" r="2.6"/><circle cx="287.1" cy="678.3" r="2.6"/><circle cx="300.6" cy="679" r="2.6"/><circle cx="220.3" cy="670" r="2.6"/><circle cx="225.7" cy="672.3" r="2.6"/><circle cx="230.3" cy="670.8" r="2.6"/><circle cx="243.3" cy="673.1" r="2.6"/><circle cx="218.1" cy="674.6" r="2.6"/><circle cx="216.5" cy="679.2" r="2.6"/><circle cx="220.3" cy="683.4" r="2.6"/><circle cx="235.6" cy="678.4" r="2.6"/><circle cx="239.8" cy="679.9" r="2.6"/><circle cx="227.2" cy="685.3" r="2.6"/><circle cx="230.3" cy="686.8" r="2.6"/><circle cx="229.5" cy="689.1" r="2.6"/><circle cx="224.9" cy="690.6" r="2.6"/><circle cx="215.8" cy="688.3" r="2.6"/><circle cx="241.7" cy="693.7" r="2.6"/><circle cx="241.7" cy="697.5" r="2.6"/><circle cx="216.5" cy="699" r="2.6"/><circle cx="250.1" cy="704.4" r="2.6"/><circle cx="246.6" cy="710.9" r="2.6"/><circle cx="231" cy="719.2" r="2.6"/><circle cx="220.3" cy="723.8" r="2.6"/><circle cx="237.2" cy="725.3" r="2.6"/><circle cx="216.8" cy="744.6" r="2.6"/><circle cx="269.7" cy="681.9" r="2.6"/><circle cx="267.4" cy="699.3" r="2.6"/><circle cx="287.1" cy="679.2" r="2.6"/><circle cx="289.9" cy="686" r="2.6"/><circle cx="300.6" cy="679.9" r="2.6"/><circle cx="45.3" cy="493.6" r="2.6"/><circle cx="45.3" cy="518" r="2.6"/><circle cx="45.3" cy="604.2" r="2.6"/><circle cx="45.3" cy="611.8" r="2.6"/><circle cx="45.3" cy="614.8" r="2.6"/><circle cx="45.3" cy="617.2" r="2.6"/><circle cx="45.3" cy="621" r="2.6"/><circle cx="45.3" cy="625.6" r="2.6"/><circle cx="310.8" cy="720.4" r="2.6"/><circle cx="310.8" cy="722" r="2.6"/><circle cx="310.8" cy="730.8" r="2.6"/><circle cx="310.8" cy="735.7" r="2.6"/><circle cx="310.8" cy="738" r="2.6"/><circle cx="310.8" cy="759.8" r="2.6"/><circle cx="310.8" cy="767" r="2.6"/></g><path d="M45.3 636.3V694.4" stroke="#BEBEBE" stroke-width="5.2" stroke-linecap="round"/><path d="M310.8 633.2V703.6" stroke="#BEBEBE" stroke-width="5.2" stroke-linecap="round"/><path d="M310.8 706V715.8" stroke="#BEBEBE" stroke-width="5.2" stroke-linecap="round"/><g fill="#0000FF"><circle cx="80.4" cy="707" r="2.6"/><circle cx="93.9" cy="702.8" r="2.6"/><circle cx="113.3" cy="698.3" r="2.6"/><circle cx="110.2" cy="715.8" r="2.6"/><circle cx="121.4" cy="710.8" r="2.6"/><circle cx="124.7" cy="703.9" r="2.6"/><circle cx="126" cy="704.8" r="2.6"/><circle cx="125.5" cy="717.1" r="2.6"/><circle cx="122.9" cy="721.2" r="2.6"/><circle cx="120.1" cy="726.5" r="2.6"/><circle cx="130.8" cy="719.2" r="2.6"/><circle cx="135.4" cy="696.7" r="2.6"/><circle cx="138.5" cy="710.5" r="2.6"/><circle cx="98.4" cy="733.4" r="2.6"/><circle cx="103.8" cy="735.4" r="2.6"/><circle cx="133.1" cy="732.6" r="2.6"/><circle cx="132.4" cy="742.9" r="2.6"/><circle cx="117.1" cy="767.3" r="2.6"/><circle cx="133.1" cy="784.9" r="2.6"/><circle cx="135.8" cy="703.7" r="2.6"/><circle cx="149.9" cy="715.9" r="2.6"/><circle cx="145.6" cy="732.7" r="2.6"/><circle cx="152.9" cy="747.2" r="2.6"/><circle cx="148.3" cy="761.7" r="2.6"/><circle cx="149.4" cy="780.4" r="2.6"/><circle cx="45.3" cy="735.7" r="2.6"/></g><path d="M45.3 697.4V722.7" stroke="#0000FF" stroke-width="5.2" stroke-linecap="round"/><g fill="#FF0000"><circle cx="203" cy="600.2" r="2.6"/><circle cx="221.4" cy="607" r="2.6"/><circle cx="202.5" cy="614.6" r="2.6"/><circle cx="213.5" cy="638.7" r="2.6"/><circle cx="215" cy="640.2" r="2.6"/><circle cx="198.5" cy="639.8" r="2.6"/><circle cx="253.7" cy="613.6" r="2.6"/><circle cx="310.8" cy="566.7" r="2.6"/><circle cx="310.8" cy="608" r="2.6"/><circle cx="310.8" cy="613" r="2.6"/><circle cx="310.8" cy="623.7" r="2.6"/><circle cx="310.8" cy="628.6" r="2.6"/><circle cx="310.8" cy="630.9" r="2.6"/></g><path d="M32.3 642.8H324.5M32.3 694.8H324.5M158.3 477.4V831.4M198.3 477.4V831.4" stroke="#000" stroke-width="1.2" fill="none"/></g><text transform="translate(27 568.4) scale(1 1.05)" font-size="9.6" fill="#4D4D4D" text-anchor="end">4</text><text transform="translate(27 672.4) scale(1 1.05)" font-size="9.6" fill="#4D4D4D" text-anchor="end">0</text><text transform="translate(27 776.4) scale(1 1.05)" font-size="9.6" fill="#4D4D4D" text-anchor="end">−4</text><text transform="translate(98.3 844.5) scale(1 1.05)" font-size="9.6" fill="#4D4D4D" text-anchor="middle">−4</text><text transform="translate(178.3 844.5) scale(1 1.05)" font-size="9.6" fill="#4D4D4D" text-anchor="middle">0</text><text transform="translate(258.3 844.5) scale(1 1.05)" font-size="9.6" fill="#4D4D4D" text-anchor="middle">4</text><text transform="translate(10.4 654.4) rotate(-90)" font-size="12.1" fill="#000" text-anchor="middle">RNA_4D</text><text transform="translate(178.2 858.3)" font-size="11.9" fill="#000" text-anchor="middle">PROT_4D</text><text x="179.3" y="890.5" font-size="14.9" fill="#000" text-anchor="middle">R = 0.71, p = 8.9e−12</text><clipPath id="c3"><rect x="456" y="500.4" width="292.5" height="354.5"/></clipPath><path d="M456 521.4H748.5M456 618.8H748.5M456 716.2H748.5M456 813.6H748.5M482.4 500.4V854.9M562.4 500.4V854.9M642.4 500.4V854.9M722.4 500.4V854.9" stroke="#EBEBEB" stroke-width="0.7" fill="none"/><path d="M456 570.1H748.5M456 667.5H748.5M456 764.9H748.5M522.4 500.4V854.9M602.4 500.4V854.9M682.4 500.4V854.9" stroke="#EBEBEB" stroke-width="1.1" fill="none"/><g clip-path="url(#c3)"><path d="M589.3 612 L601 602 L612.9 606 L618.8 619.3 L621.7 642.9 L632.5 650.7 L636.4 662.5 L634.5 678.2 L626.6 690 L620.7 701.8 L617 715 L600 720 L586 715 L583.4 707.7 L579.5 694 L569.6 686.1 L563.8 670.4 L565.7 654.7 L575.5 644.8 L581.4 629.1 L583.4 615.4 Z" fill="#BEBEBE"/><g fill="#BEBEBE"><circle cx="591.5" cy="732.4" r="2.6"/><circle cx="585.8" cy="733.7" r="2.6"/><circle cx="588.7" cy="741.7" r="2.6"/><circle cx="605.4" cy="721.2" r="2.6"/><circle cx="591.7" cy="738.2" r="2.6"/><circle cx="614.8" cy="721.3" r="2.6"/><circle cx="585" cy="732.4" r="2.6"/><circle cx="614.6" cy="724.2" r="2.6"/><circle cx="599.2" cy="723.6" r="2.6"/><circle cx="614.2" cy="732.5" r="2.6"/><circle cx="616.1" cy="728.4" r="2.6"/><circle cx="588.2" cy="739.8" r="2.6"/><circle cx="602.6" cy="728.3" r="2.6"/><circle cx="603" cy="720.9" r="2.6"/><circle cx="607.7" cy="729.8" r="2.6"/><circle cx="585.3" cy="729.4" r="2.6"/><circle cx="609.8" cy="717.9" r="2.6"/><circle cx="594.2" cy="740.4" r="2.6"/><circle cx="602.5" cy="722.7" r="2.6"/><circle cx="606.5" cy="721" r="2.6"/><circle cx="610" cy="729.5" r="2.6"/><circle cx="585" cy="729.7" r="2.6"/><circle cx="607.7" cy="720.7" r="2.6"/><circle cx="587.8" cy="717.1" r="2.6"/><circle cx="619.6" cy="718.6" r="2.6"/><circle cx="606" cy="718.3" r="2.6"/><circle cx="587.8" cy="732.4" r="2.6"/><circle cx="609.1" cy="730.3" r="2.6"/><circle cx="597.6" cy="724.6" r="2.6"/><circle cx="601.9" cy="745.2" r="2.6"/><circle cx="590.2" cy="720.3" r="2.6"/><circle cx="583" cy="710.9" r="2.6"/><circle cx="614.1" cy="735.1" r="2.6"/><circle cx="591.1" cy="716.9" r="2.6"/><circle cx="615.2" cy="719.7" r="2.6"/><circle cx="600" cy="734.6" r="2.6"/><circle cx="581.6" cy="727.2" r="2.6"/><circle cx="603.9" cy="722.9" r="2.6"/><circle cx="593.5" cy="740.3" r="2.6"/><circle cx="593.7" cy="727.2" r="2.6"/><circle cx="594.8" cy="728.1" r="2.6"/><circle cx="604.6" cy="730.4" r="2.6"/><circle cx="589.4" cy="741" r="2.6"/><circle cx="601.7" cy="748.1" r="2.6"/><circle cx="583.7" cy="718.2" r="2.6"/><circle cx="620" cy="726.5" r="2.6"/><circle cx="609.4" cy="722.6" r="2.6"/><circle cx="600" cy="739.4" r="2.6"/><circle cx="609" cy="741.2" r="2.6"/><circle cx="590.4" cy="740.1" r="2.6"/><circle cx="603.3" cy="740.3" r="2.6"/><circle cx="616.4" cy="726.9" r="2.6"/><circle cx="602.4" cy="719.9" r="2.6"/><circle cx="621" cy="718.6" r="2.6"/><circle cx="590.2" cy="741.7" r="2.6"/><circle cx="583.2" cy="728.5" r="2.6"/><circle cx="582.4" cy="713.4" r="2.6"/><circle cx="589.8" cy="728.8" r="2.6"/><circle cx="580.3" cy="722.9" r="2.6"/><circle cx="562" cy="674.3" r="2.6"/><circle cx="593.6" cy="597" r="2.6"/><circle cx="618.8" cy="714.4" r="2.6"/><circle cx="572.8" cy="645.6" r="2.6"/><circle cx="564.8" cy="661.7" r="2.6"/><circle cx="588.4" cy="601.5" r="2.6"/><circle cx="599.2" cy="727.3" r="2.6"/><circle cx="571.7" cy="697.9" r="2.6"/><circle cx="616.7" cy="715.3" r="2.6"/><circle cx="616" cy="610.7" r="2.6"/><circle cx="624.1" cy="710.4" r="2.6"/><circle cx="578.4" cy="624.8" r="2.6"/><circle cx="607.7" cy="603.1" r="2.6"/><circle cx="629.5" cy="689.8" r="2.6"/><circle cx="612.2" cy="721.2" r="2.6"/><circle cx="581.2" cy="614.9" r="2.6"/><circle cx="591.3" cy="606.6" r="2.6"/><circle cx="608.6" cy="719" r="2.6"/><circle cx="638.4" cy="661.4" r="2.6"/><circle cx="585.5" cy="720.7" r="2.6"/><circle cx="609.9" cy="718.4" r="2.6"/><circle cx="595.3" cy="598.7" r="2.6"/><circle cx="582.5" cy="604" r="2.6"/><circle cx="635.8" cy="674.4" r="2.6"/><circle cx="614.7" cy="600.5" r="2.6"/><circle cx="620.9" cy="706.4" r="2.6"/><circle cx="627.1" cy="700.6" r="2.6"/><circle cx="576.2" cy="703.1" r="2.6"/><circle cx="594.2" cy="724.3" r="2.6"/><circle cx="580.9" cy="708.4" r="2.6"/><circle cx="621" cy="637.1" r="2.6"/><circle cx="603.9" cy="722.6" r="2.6"/><circle cx="584.3" cy="712.3" r="2.6"/><circle cx="592" cy="721.8" r="2.6"/><circle cx="604.3" cy="722.2" r="2.6"/><circle cx="553.4" cy="674.2" r="2.6"/><circle cx="630.9" cy="649.4" r="2.6"/><circle cx="614.8" cy="726.9" r="2.6"/><circle cx="622.1" cy="616.6" r="2.6"/><circle cx="625.8" cy="699.9" r="2.6"/><circle cx="590" cy="610.9" r="2.6"/><circle cx="577.3" cy="699.9" r="2.6"/><circle cx="614.5" cy="605" r="2.6"/><circle cx="596.4" cy="721.2" r="2.6"/><circle cx="556.7" cy="662.3" r="2.6"/><circle cx="578.8" cy="634.6" r="2.6"/><circle cx="578.3" cy="693" r="2.6"/><circle cx="631.2" cy="649.6" r="2.6"/><circle cx="616.4" cy="719.4" r="2.6"/><circle cx="574.2" cy="638.4" r="2.6"/><circle cx="623" cy="709.6" r="2.6"/><circle cx="584.9" cy="611.8" r="2.6"/><circle cx="626.4" cy="694.3" r="2.6"/><circle cx="620.3" cy="707.2" r="2.6"/><circle cx="580.3" cy="629.8" r="2.6"/><circle cx="559.5" cy="650.8" r="2.6"/><circle cx="576.7" cy="701.2" r="2.6"/><circle cx="597.1" cy="601.3" r="2.6"/><circle cx="616.5" cy="601.7" r="2.6"/><circle cx="588.1" cy="598.8" r="2.6"/><circle cx="581.1" cy="629.8" r="2.6"/><circle cx="573.6" cy="639.1" r="2.6"/><circle cx="564.7" cy="658.9" r="2.6"/><circle cx="573.8" cy="696.7" r="2.6"/><circle cx="587.9" cy="721.1" r="2.6"/><circle cx="582.1" cy="718.4" r="2.6"/><circle cx="624.6" cy="701.2" r="2.6"/><circle cx="564.7" cy="690" r="2.6"/><circle cx="587.1" cy="597.6" r="2.6"/><circle cx="598.7" cy="721.5" r="2.6"/><circle cx="618.6" cy="712.4" r="2.6"/><circle cx="586.1" cy="598.2" r="2.6"/><circle cx="637.1" cy="666.4" r="2.6"/><circle cx="628" cy="690.7" r="2.6"/><circle cx="600.5" cy="600.4" r="2.6"/><circle cx="578.7" cy="698.9" r="2.6"/><circle cx="620.3" cy="628" r="2.6"/><circle cx="594.2" cy="603.9" r="2.6"/><circle cx="599.3" cy="594.6" r="2.6"/><circle cx="576.1" cy="696" r="2.6"/><circle cx="567.1" cy="682.2" r="2.6"/><circle cx="621.5" cy="611.9" r="2.6"/><circle cx="585.5" cy="716.6" r="2.6"/><circle cx="620.4" cy="627.2" r="2.6"/><circle cx="621.1" cy="636" r="2.6"/><circle cx="583.7" cy="614.1" r="2.6"/><circle cx="588" cy="598.6" r="2.6"/><circle cx="640.1" cy="658.1" r="2.6"/><circle cx="610.9" cy="739.4" r="2.6"/><circle cx="608.9" cy="718.1" r="2.6"/><circle cx="590.5" cy="719.8" r="2.6"/><circle cx="559.9" cy="665.5" r="2.6"/><circle cx="598.4" cy="721.6" r="2.6"/><circle cx="563.6" cy="665" r="2.6"/><circle cx="616.4" cy="609.7" r="2.6"/><circle cx="590.9" cy="717.7" r="2.6"/><circle cx="622.4" cy="636.3" r="2.6"/><circle cx="574.5" cy="695.6" r="2.6"/><circle cx="609.6" cy="719.4" r="2.6"/><circle cx="574.6" cy="693.7" r="2.6"/><circle cx="581.4" cy="709.7" r="2.6"/><circle cx="624.7" cy="640.5" r="2.6"/><circle cx="564.1" cy="671.7" r="2.6"/><circle cx="619.8" cy="623" r="2.6"/><circle cx="636.9" cy="651.3" r="2.6"/><circle cx="591.4" cy="718.9" r="2.6"/><circle cx="580.9" cy="627.4" r="2.6"/><circle cx="625.8" cy="694.6" r="2.6"/><circle cx="624.1" cy="640.7" r="2.6"/><circle cx="621.7" cy="635.1" r="2.6"/><circle cx="637" cy="675.1" r="2.6"/><circle cx="590.3" cy="609.8" r="2.6"/><circle cx="564.7" cy="661.5" r="2.6"/><circle cx="581.4" cy="627.3" r="2.6"/><circle cx="566.6" cy="683.3" r="2.6"/><circle cx="623.1" cy="703.4" r="2.6"/><circle cx="576.6" cy="641.8" r="2.6"/><circle cx="602.3" cy="601.5" r="2.6"/><circle cx="588.9" cy="605.4" r="2.6"/><circle cx="635.3" cy="680.3" r="2.6"/><circle cx="618.4" cy="616.2" r="2.6"/><circle cx="584.9" cy="714.5" r="2.6"/><circle cx="638.9" cy="663.7" r="2.6"/><circle cx="615" cy="610.1" r="2.6"/><circle cx="593.5" cy="600.1" r="2.6"/><circle cx="596.8" cy="594.3" r="2.6"/><circle cx="630.4" cy="692.8" r="2.6"/><circle cx="580.4" cy="624.7" r="2.6"/><circle cx="636.5" cy="679.4" r="2.6"/><circle cx="575.6" cy="632.1" r="2.6"/><circle cx="578.2" cy="629.4" r="2.6"/><circle cx="564.5" cy="653.4" r="2.6"/><circle cx="628.2" cy="695.3" r="2.6"/><circle cx="592.9" cy="596.5" r="2.6"/><circle cx="584.8" cy="601.4" r="2.6"/><circle cx="557.8" cy="654.8" r="2.6"/><circle cx="606.9" cy="719.3" r="2.6"/><circle cx="557.5" cy="677.7" r="2.6"/><circle cx="575" cy="644.2" r="2.6"/><circle cx="633.9" cy="648.7" r="2.6"/><circle cx="592.7" cy="603.7" r="2.6"/><circle cx="581.1" cy="625.1" r="2.6"/><circle cx="621.7" cy="641.6" r="2.6"/><circle cx="560.4" cy="666.9" r="2.6"/><circle cx="619.2" cy="714.7" r="2.6"/><circle cx="577" cy="627.6" r="2.6"/><circle cx="631.5" cy="648.6" r="2.6"/><circle cx="621.9" cy="627.1" r="2.6"/><circle cx="558.5" cy="678.1" r="2.6"/><circle cx="563.4" cy="666.8" r="2.6"/><circle cx="558.1" cy="662.4" r="2.6"/><circle cx="595.8" cy="600.3" r="2.6"/><circle cx="620.7" cy="704.6" r="2.6"/><circle cx="621.2" cy="618.6" r="2.6"/><circle cx="563.2" cy="650.6" r="2.6"/><circle cx="572" cy="641.3" r="2.6"/><circle cx="616.6" cy="614" r="2.6"/><circle cx="624.1" cy="626.6" r="2.6"/><circle cx="576.4" cy="632.7" r="2.6"/><circle cx="600.5" cy="602.3" r="2.6"/><circle cx="628.9" cy="644.5" r="2.6"/><circle cx="579.3" cy="712.2" r="2.6"/><circle cx="622.4" cy="642.6" r="2.6"/><circle cx="593.6" cy="721.7" r="2.6"/><circle cx="587.3" cy="607.7" r="2.6"/><circle cx="625.6" cy="644.7" r="2.6"/><circle cx="623.3" cy="626" r="2.6"/><circle cx="570.1" cy="688.6" r="2.6"/><circle cx="574.8" cy="690.7" r="2.6"/><circle cx="581.3" cy="702.1" r="2.6"/></g><g fill="#BEBEBE"><circle cx="550.8" cy="516.3" r="2.6"/><circle cx="563" cy="536.7" r="2.6"/><circle cx="553.2" cy="570" r="2.6"/><circle cx="562.7" cy="619.5" r="2.6"/><circle cx="562.7" cy="625.3" r="2.6"/><circle cx="521.5" cy="626.8" r="2.6"/><circle cx="528.3" cy="638.3" r="2.6"/><circle cx="542.4" cy="642.2" r="2.6"/><circle cx="549.7" cy="642.2" r="2.6"/><circle cx="552" cy="642.2" r="2.6"/><circle cx="521" cy="649.9" r="2.6"/><circle cx="533.7" cy="650.3" r="2.6"/><circle cx="526.8" cy="659.8" r="2.6"/><circle cx="551.6" cy="657" r="2.6"/><circle cx="497.5" cy="668.5" r="2.6"/><circle cx="513.1" cy="675.8" r="2.6"/><circle cx="536.7" cy="664.4" r="2.6"/><circle cx="541.8" cy="664.8" r="2.6"/><circle cx="536" cy="674" r="2.6"/><circle cx="539" cy="675.2" r="2.6"/><circle cx="546.2" cy="674.6" r="2.6"/><circle cx="530.2" cy="681.5" r="2.6"/><circle cx="519.5" cy="688.5" r="2.6"/><circle cx="528.8" cy="688.1" r="2.6"/><circle cx="555.1" cy="674.3" r="2.6"/><circle cx="556.6" cy="679.7" r="2.6"/><circle cx="555.1" cy="683.8" r="2.6"/><circle cx="562" cy="688.1" r="2.6"/><circle cx="563.5" cy="701.5" r="2.6"/><circle cx="558.9" cy="652.2" r="2.6"/><circle cx="562" cy="649.9" r="2.6"/><circle cx="546.7" cy="668.2" r="2.6"/><circle cx="549.7" cy="665.1" r="2.6"/><circle cx="552.8" cy="669" r="2.6"/><circle cx="603.9" cy="520.3" r="2.6"/><circle cx="616.4" cy="532.1" r="2.6"/><circle cx="622.2" cy="529.3" r="2.6"/><circle cx="589.4" cy="552.3" r="2.6"/><circle cx="597" cy="556.2" r="2.6"/><circle cx="600.5" cy="557" r="2.6"/><circle cx="607.7" cy="568" r="2.6"/><circle cx="607" cy="570.3" r="2.6"/><circle cx="615.8" cy="566.8" r="2.6"/><circle cx="599.3" cy="571" r="2.6"/><circle cx="600.4" cy="579.8" r="2.6"/><circle cx="597" cy="587.1" r="2.6"/><circle cx="601.6" cy="589.4" r="2.6"/><circle cx="603.9" cy="585.6" r="2.6"/><circle cx="607" cy="585.9" r="2.6"/><circle cx="587.1" cy="592.4" r="2.6"/><circle cx="614.3" cy="593.5" r="2.6"/><circle cx="614.3" cy="595.5" r="2.6"/><circle cx="570.6" cy="599" r="2.6"/><circle cx="580.2" cy="600.1" r="2.6"/><circle cx="570" cy="605.7" r="2.6"/><circle cx="577.2" cy="606.2" r="2.6"/><circle cx="600.1" cy="596.3" r="2.6"/><circle cx="601.6" cy="597.8" r="2.6"/><circle cx="607" cy="600.8" r="2.6"/><circle cx="609.2" cy="601.6" r="2.6"/><circle cx="613.8" cy="602.1" r="2.6"/><circle cx="594.4" cy="604.2" r="2.6"/><circle cx="596.3" cy="605.4" r="2.6"/><circle cx="611.5" cy="607" r="2.6"/><circle cx="581" cy="612.3" r="2.6"/><circle cx="579.1" cy="618.4" r="2.6"/><circle cx="583.3" cy="616.9" r="2.6"/><circle cx="561.9" cy="625" r="2.6"/><circle cx="565.7" cy="625" r="2.6"/><circle cx="569.5" cy="632.9" r="2.6"/><circle cx="614.9" cy="613.1" r="2.6"/><circle cx="620.7" cy="616.1" r="2.6"/><circle cx="625.3" cy="626" r="2.6"/><circle cx="604.1" cy="519.6" r="2.6"/><circle cx="654.5" cy="647.6" r="2.6"/><circle cx="661.9" cy="646.4" r="2.6"/><circle cx="672.9" cy="645.6" r="2.6"/><circle cx="647.3" cy="653" r="2.6"/><circle cx="646.9" cy="656.3" r="2.6"/><circle cx="651.9" cy="655.6" r="2.6"/><circle cx="701.9" cy="655.9" r="2.6"/><circle cx="680.5" cy="666.3" r="2.6"/><circle cx="641.5" cy="665.5" r="2.6"/><circle cx="642.3" cy="668.5" r="2.6"/><circle cx="646.9" cy="664" r="2.6"/><circle cx="649.2" cy="665.5" r="2.6"/><circle cx="652.2" cy="664.7" r="2.6"/><circle cx="651.5" cy="675.4" r="2.6"/><circle cx="662.9" cy="678.5" r="2.6"/><circle cx="666.3" cy="677" r="2.6"/><circle cx="689.2" cy="677" r="2.6"/><circle cx="641.5" cy="680" r="2.6"/><circle cx="643.1" cy="680.8" r="2.6"/><circle cx="649.9" cy="682.3" r="2.6"/><circle cx="652.2" cy="683.8" r="2.6"/><circle cx="653.8" cy="685.4" r="2.6"/><circle cx="661.4" cy="686.6" r="2.6"/><circle cx="659.1" cy="691.8" r="2.6"/><circle cx="645.4" cy="696.1" r="2.6"/><circle cx="652.2" cy="697.6" r="2.6"/><circle cx="640.8" cy="686.1" r="2.6"/><circle cx="642.3" cy="692.3" r="2.6"/><circle cx="651.9" cy="697.9" r="2.6"/><circle cx="670.6" cy="709.9" r="2.6"/><circle cx="671.3" cy="717.8" r="2.6"/><circle cx="656.5" cy="714.2" r="2.6"/><circle cx="645.4" cy="715.7" r="2.6"/><circle cx="640" cy="714.2" r="2.6"/><circle cx="641.5" cy="735.9" r="2.6"/><circle cx="640.8" cy="757.3" r="2.6"/><circle cx="564.3" cy="701.1" r="2.6"/><circle cx="571.7" cy="705.8" r="2.6"/><circle cx="577.3" cy="708.5" r="2.6"/><circle cx="578.2" cy="713.2" r="2.6"/><circle cx="576.9" cy="723.8" r="2.6"/><circle cx="575.8" cy="729" r="2.6"/><circle cx="577.6" cy="735.4" r="2.6"/><circle cx="571.7" cy="739.2" r="2.6"/><circle cx="578.7" cy="756.4" r="2.6"/><circle cx="585.6" cy="729" r="2.6"/><circle cx="584.7" cy="733.6" r="2.6"/><circle cx="587.5" cy="740.1" r="2.6"/><circle cx="584.7" cy="742.9" r="2.6"/><circle cx="594" cy="734.5" r="2.6"/><circle cx="596.7" cy="739.2" r="2.6"/><circle cx="599.5" cy="741.9" r="2.6"/><circle cx="594.9" cy="741" r="2.6"/><circle cx="603.2" cy="749.4" r="2.6"/><circle cx="607.9" cy="754.4" r="2.6"/><circle cx="597.7" cy="745.6" r="2.6"/><circle cx="612.5" cy="740.1" r="2.6"/><circle cx="616.2" cy="737.3" r="2.6"/><circle cx="619" cy="738.6" r="2.6"/><circle cx="619" cy="756.4" r="2.6"/><circle cx="595.4" cy="763.3" r="2.6"/><circle cx="599.1" cy="760.9" r="2.6"/><circle cx="602.3" cy="764.2" r="2.6"/><circle cx="606.6" cy="767.9" r="2.6"/><circle cx="585.6" cy="770.7" r="2.6"/><circle cx="583.8" cy="775.3" r="2.6"/><circle cx="600.1" cy="771.6" r="2.6"/><circle cx="601" cy="776.8" r="2.6"/><circle cx="600.4" cy="782.7" r="2.6"/><circle cx="584.1" cy="781.8" r="2.6"/><circle cx="611.2" cy="838.4" r="2.6"/><circle cx="629.2" cy="697.4" r="2.6"/><circle cx="631.1" cy="702.1" r="2.6"/><circle cx="634.8" cy="700.2" r="2.6"/><circle cx="627.3" cy="712.3" r="2.6"/><circle cx="630.1" cy="709.5" r="2.6"/><circle cx="645.5" cy="696.5" r="2.6"/><circle cx="659.8" cy="691.9" r="2.6"/><circle cx="638.5" cy="713.2" r="2.6"/><circle cx="645.3" cy="715.4" r="2.6"/><circle cx="656.5" cy="713.7" r="2.6"/><circle cx="630.1" cy="723.8" r="2.6"/><circle cx="631.4" cy="732.7" r="2.6"/><circle cx="640.9" cy="735.8" r="2.6"/><circle cx="639.6" cy="757.1" r="2.6"/><circle cx="619.9" cy="725.2" r="2.6"/><circle cx="618.1" cy="729" r="2.6"/><circle cx="625.5" cy="707.6" r="2.6"/><circle cx="469.5" cy="602.4" r="2.6"/><circle cx="469.5" cy="611.8" r="2.6"/><circle cx="469.5" cy="616.9" r="2.6"/><circle cx="469.5" cy="624.5" r="2.6"/><circle cx="735.2" cy="744.3" r="2.6"/><circle cx="735.2" cy="761.9" r="2.6"/><circle cx="735.2" cy="816.1" r="2.6"/></g><path d="M469.5 633V689" stroke="#BEBEBE" stroke-width="5.2" stroke-linecap="round"/><path d="M735.2 642.6V693.8" stroke="#BEBEBE" stroke-width="5.2" stroke-linecap="round"/><path d="M735.2 699.2V706.8" stroke="#BEBEBE" stroke-width="5.2" stroke-linecap="round"/><path d="M735.2 714.5V719.8" stroke="#BEBEBE" stroke-width="5.2" stroke-linecap="round"/><g fill="#0000FF"><circle cx="474.4" cy="700.3" r="2.6"/><circle cx="487.1" cy="700" r="2.6"/><circle cx="554.6" cy="719.1" r="2.6"/><circle cx="561.5" cy="721.7" r="2.6"/><circle cx="563.8" cy="714.8" r="2.6"/><circle cx="564.2" cy="696.5" r="2.6"/><circle cx="548.2" cy="739.2" r="2.6"/><circle cx="549.7" cy="737.7" r="2.6"/><circle cx="565.2" cy="697" r="2.6"/><circle cx="568.9" cy="695.6" r="2.6"/><circle cx="569.8" cy="697.8" r="2.6"/><circle cx="576.3" cy="697.4" r="2.6"/><circle cx="581" cy="695.6" r="2.6"/><circle cx="568.9" cy="703.9" r="2.6"/><circle cx="576.3" cy="704.8" r="2.6"/><circle cx="564.3" cy="715" r="2.6"/><circle cx="572.1" cy="714.5" r="2.6"/><circle cx="580.6" cy="731.7" r="2.6"/><circle cx="469.5" cy="733.4" r="2.6"/><circle cx="469.5" cy="747" r="2.6"/></g><path d="M469.5 694.4V724" stroke="#0000FF" stroke-width="5.2" stroke-linecap="round"/><g fill="#FF0000"><circle cx="625.6" cy="606.6" r="2.6"/><circle cx="628.3" cy="614.9" r="2.6"/><circle cx="640.9" cy="612.3" r="2.6"/><circle cx="649.7" cy="618.9" r="2.6"/><circle cx="632.2" cy="622.2" r="2.6"/><circle cx="625" cy="629.9" r="2.6"/><circle cx="636" cy="632.9" r="2.6"/><circle cx="638.3" cy="635.2" r="2.6"/><circle cx="632.6" cy="635.2" r="2.6"/><circle cx="644.8" cy="636.7" r="2.6"/><circle cx="662.7" cy="637.5" r="2.6"/><circle cx="645.4" cy="637" r="2.6"/><circle cx="644.3" cy="640.2" r="2.6"/><circle cx="641.1" cy="640.2" r="2.6"/><circle cx="626.1" cy="640.6" r="2.6"/><circle cx="624" cy="634.9" r="2.6"/><circle cx="695.3" cy="641.8" r="2.6"/><circle cx="640" cy="636.4" r="2.6"/><circle cx="735.2" cy="584.8" r="2.6"/><circle cx="735.2" cy="605.6" r="2.6"/><circle cx="735.2" cy="607.1" r="2.6"/><circle cx="735.2" cy="614.7" r="2.6"/><circle cx="731.7" cy="641.3" r="2.6"/><circle cx="735.2" cy="621.5" r="2.6"/><circle cx="735.2" cy="625" r="2.6"/><circle cx="735.2" cy="628.5" r="2.6"/><circle cx="735.2" cy="632" r="2.6"/><circle cx="735.2" cy="635.5" r="2.6"/><circle cx="735.2" cy="639" r="2.6"/></g><path d="M456 643.1H748.5M456 691.9H748.5M582.4 500.4V854.9M622.4 500.4V854.9" stroke="#000" stroke-width="1.2" fill="none"/></g><text transform="translate(451 573.7) scale(1 1.05)" font-size="9.6" fill="#4D4D4D" text-anchor="end">4</text><text transform="translate(451 671.1) scale(1 1.05)" font-size="9.6" fill="#4D4D4D" text-anchor="end">0</text><text transform="translate(451 768.5) scale(1 1.05)" font-size="9.6" fill="#4D4D4D" text-anchor="end">−4</text><text transform="translate(522.4 866.9) scale(1 1.05)" font-size="9.6" fill="#4D4D4D" text-anchor="middle">−4</text><text transform="translate(602.4 866.9) scale(1 1.05)" font-size="9.6" fill="#4D4D4D" text-anchor="middle">0</text><text transform="translate(682.4 866.9) scale(1 1.05)" font-size="9.6" fill="#4D4D4D" text-anchor="middle">4</text><text transform="translate(433.7 677.6) rotate(-90)" font-size="12.1" fill="#000" text-anchor="middle">RNA_4R</text><text transform="translate(602.7 880.8)" font-size="11.9" fill="#000" text-anchor="middle">PROT_4R</text><text x="609.1" y="911.4" font-size="14.9" fill="#000" text-anchor="middle">R = 0.83, p &lt; 2.2e−16</text><circle cx="98.5" cy="83.1" r="7.9" fill="#fff" stroke="#111" stroke-width="0.95"/><text x="98.9" y="87.4" font-size="13.4" fill="#000" stroke="#000" stroke-width="0.35" text-anchor="middle">1</text><circle cx="178.5" cy="83.1" r="7.9" fill="#fff" stroke="#111" stroke-width="0.95"/><text x="178.9" y="87.4" font-size="13.4" fill="#000" stroke="#000" stroke-width="0.35" text-anchor="middle">2</text><circle cx="258.5" cy="83.1" r="7.9" fill="#fff" stroke="#111" stroke-width="0.95"/><text x="258.9" y="87.4" font-size="13.4" fill="#000" stroke="#000" stroke-width="0.35" text-anchor="middle">3</text><circle cx="98.5" cy="171.1" r="7.9" fill="#fff" stroke="#111" stroke-width="0.95"/><text x="98.9" y="175.4" font-size="13.4" fill="#000" stroke="#000" stroke-width="0.35" text-anchor="middle">4</text><circle cx="178.5" cy="171.1" r="7.9" fill="#fff" stroke="#111" stroke-width="0.95"/><text x="178.9" y="175.4" font-size="13.4" fill="#000" stroke="#000" stroke-width="0.35" text-anchor="middle">5</text><circle cx="258.5" cy="171.1" r="7.9" fill="#fff" stroke="#111" stroke-width="0.95"/><text x="258.9" y="175.4" font-size="13.4" fill="#000" stroke="#000" stroke-width="0.35" text-anchor="middle">6</text><circle cx="98.5" cy="259.1" r="7.9" fill="#fff" stroke="#111" stroke-width="0.95"/><text x="98.9" y="263.4" font-size="13.4" fill="#000" stroke="#000" stroke-width="0.35" text-anchor="middle">7</text><circle cx="178.5" cy="259.1" r="7.9" fill="#fff" stroke="#111" stroke-width="0.95"/><text x="178.9" y="263.4" font-size="13.4" fill="#000" stroke="#000" stroke-width="0.35" text-anchor="middle">8</text><circle cx="258.5" cy="259.1" r="7.9" fill="#fff" stroke="#111" stroke-width="0.95"/><text x="258.9" y="263.4" font-size="13.4" fill="#000" stroke="#000" stroke-width="0.35" text-anchor="middle">9</text><rect x="355.5" y="406.5" width="58" height="73" fill="#fff" stroke="#333" stroke-width="0.9"/><circle cx="370.8" cy="423" r="2.7" fill="#BEBEBE"/><text x="370.8" y="427.5" font-size="9.5" fill="#BEBEBE" text-anchor="middle">a</text><text transform="translate(386.8 426.6) scale(1 1.15)" font-size="10.1" fill="#000">NA</text><circle cx="370.8" cy="442.2" r="2.7" fill="#0000FF"/><text x="370.8" y="446.7" font-size="9.5" fill="#0000FF" text-anchor="middle">a</text><text transform="translate(386.8 445.8) scale(1 1.15)" font-size="10.1" fill="#000">DW</text><circle cx="370.8" cy="461.1" r="2.7" fill="#FF0000"/><text x="370.8" y="465.6" font-size="9.5" fill="#FF0000" text-anchor="middle">a</text><text transform="translate(386.8 464.7) scale(1 1.15)" font-size="10.1" fill="#000">UP</text></svg></body></html>
